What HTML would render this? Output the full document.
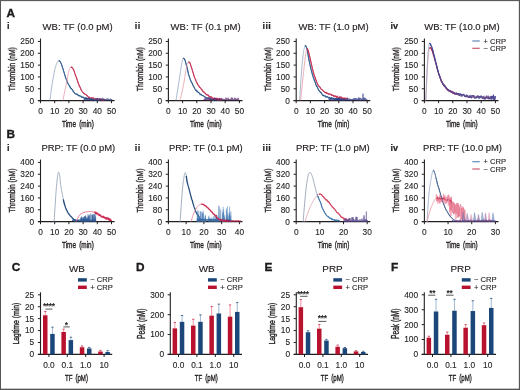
<!DOCTYPE html>
<html><head><meta charset="utf-8"><style>
html,body{margin:0;padding:0;background:#fff;}
svg{display:block;filter:blur(0.4px);}
svg text{font-family:"Liberation Sans", sans-serif;}
</style></head><body>
<svg width="520" height="390" viewBox="0 0 520 390">
<rect x="0" y="0" width="520" height="390" fill="#fff"/>
<rect x="0" y="0" width="1" height="390" fill="#555"/>
<rect x="0" y="0" width="520" height="1" fill="#5a5a5a"/>
<rect x="0" y="1" width="520" height="1" fill="#5a5a5a" fill-opacity="0.12"/>
<rect x="519" y="0" width="1" height="390" fill="#555"/>
<rect x="518" y="0" width="1" height="390" fill="#555" fill-opacity="0.15"/>
<rect x="0" y="389" width="520" height="1" fill="#555"/>
<rect x="0" y="388" width="520" height="1" fill="#555" fill-opacity="0.35"/>
<line x1="40.50" y1="100.90" x2="40.50" y2="38.55" stroke="#231f20" stroke-width="1.1" />
<line x1="37.90" y1="100.60" x2="40.50" y2="100.60" stroke="#231f20" stroke-width="1.0" />
<text transform="translate(34.20,103.50) scale(0.99,1)" font-size="8.4" text-anchor="end" font-weight="normal" fill="#231f20" stroke="#231f20" stroke-width="0.12">0</text>
<line x1="37.90" y1="88.77" x2="40.50" y2="88.77" stroke="#231f20" stroke-width="1.0" />
<text transform="translate(34.20,91.67) scale(0.99,1)" font-size="8.4" text-anchor="end" font-weight="normal" fill="#231f20" stroke="#231f20" stroke-width="0.12">50</text>
<line x1="37.90" y1="76.94" x2="40.50" y2="76.94" stroke="#231f20" stroke-width="1.0" />
<text transform="translate(34.20,79.84) scale(0.99,1)" font-size="8.4" text-anchor="end" font-weight="normal" fill="#231f20" stroke="#231f20" stroke-width="0.12">100</text>
<line x1="37.90" y1="65.11" x2="40.50" y2="65.11" stroke="#231f20" stroke-width="1.0" />
<text transform="translate(34.20,68.01) scale(0.99,1)" font-size="8.4" text-anchor="end" font-weight="normal" fill="#231f20" stroke="#231f20" stroke-width="0.12">150</text>
<line x1="37.90" y1="53.28" x2="40.50" y2="53.28" stroke="#231f20" stroke-width="1.0" />
<text transform="translate(34.20,56.18) scale(0.99,1)" font-size="8.4" text-anchor="end" font-weight="normal" fill="#231f20" stroke="#231f20" stroke-width="0.12">200</text>
<line x1="37.90" y1="41.45" x2="40.50" y2="41.45" stroke="#231f20" stroke-width="1.0" />
<text transform="translate(34.20,44.35) scale(0.99,1)" font-size="8.4" text-anchor="end" font-weight="normal" fill="#231f20" stroke="#231f20" stroke-width="0.12">250</text>
<line x1="37.90" y1="100.60" x2="114.60" y2="100.60" stroke="#231f20" stroke-width="1.1" />
<line x1="40.50" y1="100.60" x2="40.50" y2="103.20" stroke="#231f20" stroke-width="1.0" />
<text transform="translate(40.50,113.80) scale(0.99,1)" font-size="8.4" text-anchor="middle" font-weight="normal" fill="#231f20" stroke="#231f20" stroke-width="0.12">0</text>
<line x1="54.70" y1="100.60" x2="54.70" y2="103.20" stroke="#231f20" stroke-width="1.0" />
<text transform="translate(54.70,113.80) scale(0.99,1)" font-size="8.4" text-anchor="middle" font-weight="normal" fill="#231f20" stroke="#231f20" stroke-width="0.12">10</text>
<line x1="68.90" y1="100.60" x2="68.90" y2="103.20" stroke="#231f20" stroke-width="1.0" />
<text transform="translate(68.90,113.80) scale(0.99,1)" font-size="8.4" text-anchor="middle" font-weight="normal" fill="#231f20" stroke="#231f20" stroke-width="0.12">20</text>
<line x1="83.10" y1="100.60" x2="83.10" y2="103.20" stroke="#231f20" stroke-width="1.0" />
<text transform="translate(83.10,113.80) scale(0.99,1)" font-size="8.4" text-anchor="middle" font-weight="normal" fill="#231f20" stroke="#231f20" stroke-width="0.12">30</text>
<line x1="97.30" y1="100.60" x2="97.30" y2="103.20" stroke="#231f20" stroke-width="1.0" />
<text transform="translate(97.30,113.80) scale(0.99,1)" font-size="8.4" text-anchor="middle" font-weight="normal" fill="#231f20" stroke="#231f20" stroke-width="0.12">40</text>
<line x1="111.50" y1="100.60" x2="111.50" y2="103.20" stroke="#231f20" stroke-width="1.0" />
<text transform="translate(111.50,113.80) scale(0.99,1)" font-size="8.4" text-anchor="middle" font-weight="normal" fill="#231f20" stroke="#231f20" stroke-width="0.12">50</text>
<line x1="40.50" y1="221.90" x2="40.50" y2="159.55" stroke="#231f20" stroke-width="1.1" />
<line x1="37.90" y1="221.60" x2="40.50" y2="221.60" stroke="#231f20" stroke-width="1.0" />
<text transform="translate(34.20,224.50) scale(0.99,1)" font-size="8.4" text-anchor="end" font-weight="normal" fill="#231f20" stroke="#231f20" stroke-width="0.12">0</text>
<line x1="37.90" y1="209.77" x2="40.50" y2="209.77" stroke="#231f20" stroke-width="1.0" />
<text transform="translate(34.20,212.67) scale(0.99,1)" font-size="8.4" text-anchor="end" font-weight="normal" fill="#231f20" stroke="#231f20" stroke-width="0.12">80</text>
<line x1="37.90" y1="197.94" x2="40.50" y2="197.94" stroke="#231f20" stroke-width="1.0" />
<text transform="translate(34.20,200.84) scale(0.99,1)" font-size="8.4" text-anchor="end" font-weight="normal" fill="#231f20" stroke="#231f20" stroke-width="0.12">160</text>
<line x1="37.90" y1="186.11" x2="40.50" y2="186.11" stroke="#231f20" stroke-width="1.0" />
<text transform="translate(34.20,189.01) scale(0.99,1)" font-size="8.4" text-anchor="end" font-weight="normal" fill="#231f20" stroke="#231f20" stroke-width="0.12">240</text>
<line x1="37.90" y1="174.28" x2="40.50" y2="174.28" stroke="#231f20" stroke-width="1.0" />
<text transform="translate(34.20,177.18) scale(0.99,1)" font-size="8.4" text-anchor="end" font-weight="normal" fill="#231f20" stroke="#231f20" stroke-width="0.12">320</text>
<line x1="37.90" y1="162.45" x2="40.50" y2="162.45" stroke="#231f20" stroke-width="1.0" />
<text transform="translate(34.20,165.35) scale(0.99,1)" font-size="8.4" text-anchor="end" font-weight="normal" fill="#231f20" stroke="#231f20" stroke-width="0.12">400</text>
<line x1="37.90" y1="221.60" x2="114.60" y2="221.60" stroke="#231f20" stroke-width="1.1" />
<line x1="40.50" y1="221.60" x2="40.50" y2="224.20" stroke="#231f20" stroke-width="1.0" />
<text transform="translate(40.50,234.80) scale(0.99,1)" font-size="8.4" text-anchor="middle" font-weight="normal" fill="#231f20" stroke="#231f20" stroke-width="0.12">0</text>
<line x1="54.70" y1="221.60" x2="54.70" y2="224.20" stroke="#231f20" stroke-width="1.0" />
<text transform="translate(54.70,234.80) scale(0.99,1)" font-size="8.4" text-anchor="middle" font-weight="normal" fill="#231f20" stroke="#231f20" stroke-width="0.12">10</text>
<line x1="68.90" y1="221.60" x2="68.90" y2="224.20" stroke="#231f20" stroke-width="1.0" />
<text transform="translate(68.90,234.80) scale(0.99,1)" font-size="8.4" text-anchor="middle" font-weight="normal" fill="#231f20" stroke="#231f20" stroke-width="0.12">20</text>
<line x1="83.10" y1="221.60" x2="83.10" y2="224.20" stroke="#231f20" stroke-width="1.0" />
<text transform="translate(83.10,234.80) scale(0.99,1)" font-size="8.4" text-anchor="middle" font-weight="normal" fill="#231f20" stroke="#231f20" stroke-width="0.12">30</text>
<line x1="97.30" y1="221.60" x2="97.30" y2="224.20" stroke="#231f20" stroke-width="1.0" />
<text transform="translate(97.30,234.80) scale(0.99,1)" font-size="8.4" text-anchor="middle" font-weight="normal" fill="#231f20" stroke="#231f20" stroke-width="0.12">40</text>
<line x1="111.50" y1="221.60" x2="111.50" y2="224.20" stroke="#231f20" stroke-width="1.0" />
<text transform="translate(111.50,234.80) scale(0.99,1)" font-size="8.4" text-anchor="middle" font-weight="normal" fill="#231f20" stroke="#231f20" stroke-width="0.12">50</text>
<line x1="168.40" y1="100.90" x2="168.40" y2="38.55" stroke="#231f20" stroke-width="1.1" />
<line x1="165.80" y1="100.60" x2="168.40" y2="100.60" stroke="#231f20" stroke-width="1.0" />
<text transform="translate(162.10,103.50) scale(0.99,1)" font-size="8.4" text-anchor="end" font-weight="normal" fill="#231f20" stroke="#231f20" stroke-width="0.12">0</text>
<line x1="165.80" y1="88.77" x2="168.40" y2="88.77" stroke="#231f20" stroke-width="1.0" />
<text transform="translate(162.10,91.67) scale(0.99,1)" font-size="8.4" text-anchor="end" font-weight="normal" fill="#231f20" stroke="#231f20" stroke-width="0.12">50</text>
<line x1="165.80" y1="76.94" x2="168.40" y2="76.94" stroke="#231f20" stroke-width="1.0" />
<text transform="translate(162.10,79.84) scale(0.99,1)" font-size="8.4" text-anchor="end" font-weight="normal" fill="#231f20" stroke="#231f20" stroke-width="0.12">100</text>
<line x1="165.80" y1="65.11" x2="168.40" y2="65.11" stroke="#231f20" stroke-width="1.0" />
<text transform="translate(162.10,68.01) scale(0.99,1)" font-size="8.4" text-anchor="end" font-weight="normal" fill="#231f20" stroke="#231f20" stroke-width="0.12">150</text>
<line x1="165.80" y1="53.28" x2="168.40" y2="53.28" stroke="#231f20" stroke-width="1.0" />
<text transform="translate(162.10,56.18) scale(0.99,1)" font-size="8.4" text-anchor="end" font-weight="normal" fill="#231f20" stroke="#231f20" stroke-width="0.12">200</text>
<line x1="165.80" y1="41.45" x2="168.40" y2="41.45" stroke="#231f20" stroke-width="1.0" />
<text transform="translate(162.10,44.35) scale(0.99,1)" font-size="8.4" text-anchor="end" font-weight="normal" fill="#231f20" stroke="#231f20" stroke-width="0.12">250</text>
<line x1="165.80" y1="100.60" x2="242.50" y2="100.60" stroke="#231f20" stroke-width="1.1" />
<line x1="168.40" y1="100.60" x2="168.40" y2="103.20" stroke="#231f20" stroke-width="1.0" />
<text transform="translate(168.40,113.80) scale(0.99,1)" font-size="8.4" text-anchor="middle" font-weight="normal" fill="#231f20" stroke="#231f20" stroke-width="0.12">0</text>
<line x1="182.60" y1="100.60" x2="182.60" y2="103.20" stroke="#231f20" stroke-width="1.0" />
<text transform="translate(182.60,113.80) scale(0.99,1)" font-size="8.4" text-anchor="middle" font-weight="normal" fill="#231f20" stroke="#231f20" stroke-width="0.12">10</text>
<line x1="196.80" y1="100.60" x2="196.80" y2="103.20" stroke="#231f20" stroke-width="1.0" />
<text transform="translate(196.80,113.80) scale(0.99,1)" font-size="8.4" text-anchor="middle" font-weight="normal" fill="#231f20" stroke="#231f20" stroke-width="0.12">20</text>
<line x1="211.00" y1="100.60" x2="211.00" y2="103.20" stroke="#231f20" stroke-width="1.0" />
<text transform="translate(211.00,113.80) scale(0.99,1)" font-size="8.4" text-anchor="middle" font-weight="normal" fill="#231f20" stroke="#231f20" stroke-width="0.12">30</text>
<line x1="225.20" y1="100.60" x2="225.20" y2="103.20" stroke="#231f20" stroke-width="1.0" />
<text transform="translate(225.20,113.80) scale(0.99,1)" font-size="8.4" text-anchor="middle" font-weight="normal" fill="#231f20" stroke="#231f20" stroke-width="0.12">40</text>
<line x1="239.40" y1="100.60" x2="239.40" y2="103.20" stroke="#231f20" stroke-width="1.0" />
<text transform="translate(239.40,113.80) scale(0.99,1)" font-size="8.4" text-anchor="middle" font-weight="normal" fill="#231f20" stroke="#231f20" stroke-width="0.12">50</text>
<line x1="168.40" y1="221.90" x2="168.40" y2="159.55" stroke="#231f20" stroke-width="1.1" />
<line x1="165.80" y1="221.60" x2="168.40" y2="221.60" stroke="#231f20" stroke-width="1.0" />
<text transform="translate(162.10,224.50) scale(0.99,1)" font-size="8.4" text-anchor="end" font-weight="normal" fill="#231f20" stroke="#231f20" stroke-width="0.12">0</text>
<line x1="165.80" y1="209.77" x2="168.40" y2="209.77" stroke="#231f20" stroke-width="1.0" />
<text transform="translate(162.10,212.67) scale(0.99,1)" font-size="8.4" text-anchor="end" font-weight="normal" fill="#231f20" stroke="#231f20" stroke-width="0.12">80</text>
<line x1="165.80" y1="197.94" x2="168.40" y2="197.94" stroke="#231f20" stroke-width="1.0" />
<text transform="translate(162.10,200.84) scale(0.99,1)" font-size="8.4" text-anchor="end" font-weight="normal" fill="#231f20" stroke="#231f20" stroke-width="0.12">160</text>
<line x1="165.80" y1="186.11" x2="168.40" y2="186.11" stroke="#231f20" stroke-width="1.0" />
<text transform="translate(162.10,189.01) scale(0.99,1)" font-size="8.4" text-anchor="end" font-weight="normal" fill="#231f20" stroke="#231f20" stroke-width="0.12">240</text>
<line x1="165.80" y1="174.28" x2="168.40" y2="174.28" stroke="#231f20" stroke-width="1.0" />
<text transform="translate(162.10,177.18) scale(0.99,1)" font-size="8.4" text-anchor="end" font-weight="normal" fill="#231f20" stroke="#231f20" stroke-width="0.12">320</text>
<line x1="165.80" y1="162.45" x2="168.40" y2="162.45" stroke="#231f20" stroke-width="1.0" />
<text transform="translate(162.10,165.35) scale(0.99,1)" font-size="8.4" text-anchor="end" font-weight="normal" fill="#231f20" stroke="#231f20" stroke-width="0.12">400</text>
<line x1="165.80" y1="221.60" x2="242.50" y2="221.60" stroke="#231f20" stroke-width="1.1" />
<line x1="168.40" y1="221.60" x2="168.40" y2="224.20" stroke="#231f20" stroke-width="1.0" />
<text transform="translate(168.40,234.80) scale(0.99,1)" font-size="8.4" text-anchor="middle" font-weight="normal" fill="#231f20" stroke="#231f20" stroke-width="0.12">0</text>
<line x1="186.15" y1="221.60" x2="186.15" y2="224.20" stroke="#231f20" stroke-width="1.0" />
<text transform="translate(186.15,234.80) scale(0.99,1)" font-size="8.4" text-anchor="middle" font-weight="normal" fill="#231f20" stroke="#231f20" stroke-width="0.12">10</text>
<line x1="203.90" y1="221.60" x2="203.90" y2="224.20" stroke="#231f20" stroke-width="1.0" />
<text transform="translate(203.90,234.80) scale(0.99,1)" font-size="8.4" text-anchor="middle" font-weight="normal" fill="#231f20" stroke="#231f20" stroke-width="0.12">20</text>
<line x1="221.65" y1="221.60" x2="221.65" y2="224.20" stroke="#231f20" stroke-width="1.0" />
<text transform="translate(221.65,234.80) scale(0.99,1)" font-size="8.4" text-anchor="middle" font-weight="normal" fill="#231f20" stroke="#231f20" stroke-width="0.12">30</text>
<line x1="239.40" y1="221.60" x2="239.40" y2="224.20" stroke="#231f20" stroke-width="1.0" />
<text transform="translate(239.40,234.80) scale(0.99,1)" font-size="8.4" text-anchor="middle" font-weight="normal" fill="#231f20" stroke="#231f20" stroke-width="0.12">40</text>
<line x1="296.20" y1="100.90" x2="296.20" y2="38.55" stroke="#231f20" stroke-width="1.1" />
<line x1="293.60" y1="100.60" x2="296.20" y2="100.60" stroke="#231f20" stroke-width="1.0" />
<text transform="translate(289.90,103.50) scale(0.99,1)" font-size="8.4" text-anchor="end" font-weight="normal" fill="#231f20" stroke="#231f20" stroke-width="0.12">0</text>
<line x1="293.60" y1="88.77" x2="296.20" y2="88.77" stroke="#231f20" stroke-width="1.0" />
<text transform="translate(289.90,91.67) scale(0.99,1)" font-size="8.4" text-anchor="end" font-weight="normal" fill="#231f20" stroke="#231f20" stroke-width="0.12">50</text>
<line x1="293.60" y1="76.94" x2="296.20" y2="76.94" stroke="#231f20" stroke-width="1.0" />
<text transform="translate(289.90,79.84) scale(0.99,1)" font-size="8.4" text-anchor="end" font-weight="normal" fill="#231f20" stroke="#231f20" stroke-width="0.12">100</text>
<line x1="293.60" y1="65.11" x2="296.20" y2="65.11" stroke="#231f20" stroke-width="1.0" />
<text transform="translate(289.90,68.01) scale(0.99,1)" font-size="8.4" text-anchor="end" font-weight="normal" fill="#231f20" stroke="#231f20" stroke-width="0.12">150</text>
<line x1="293.60" y1="53.28" x2="296.20" y2="53.28" stroke="#231f20" stroke-width="1.0" />
<text transform="translate(289.90,56.18) scale(0.99,1)" font-size="8.4" text-anchor="end" font-weight="normal" fill="#231f20" stroke="#231f20" stroke-width="0.12">200</text>
<line x1="293.60" y1="41.45" x2="296.20" y2="41.45" stroke="#231f20" stroke-width="1.0" />
<text transform="translate(289.90,44.35) scale(0.99,1)" font-size="8.4" text-anchor="end" font-weight="normal" fill="#231f20" stroke="#231f20" stroke-width="0.12">250</text>
<line x1="293.60" y1="100.60" x2="370.30" y2="100.60" stroke="#231f20" stroke-width="1.1" />
<line x1="296.20" y1="100.60" x2="296.20" y2="103.20" stroke="#231f20" stroke-width="1.0" />
<text transform="translate(296.20,113.80) scale(0.99,1)" font-size="8.4" text-anchor="middle" font-weight="normal" fill="#231f20" stroke="#231f20" stroke-width="0.12">0</text>
<line x1="310.40" y1="100.60" x2="310.40" y2="103.20" stroke="#231f20" stroke-width="1.0" />
<text transform="translate(310.40,113.80) scale(0.99,1)" font-size="8.4" text-anchor="middle" font-weight="normal" fill="#231f20" stroke="#231f20" stroke-width="0.12">10</text>
<line x1="324.60" y1="100.60" x2="324.60" y2="103.20" stroke="#231f20" stroke-width="1.0" />
<text transform="translate(324.60,113.80) scale(0.99,1)" font-size="8.4" text-anchor="middle" font-weight="normal" fill="#231f20" stroke="#231f20" stroke-width="0.12">20</text>
<line x1="338.80" y1="100.60" x2="338.80" y2="103.20" stroke="#231f20" stroke-width="1.0" />
<text transform="translate(338.80,113.80) scale(0.99,1)" font-size="8.4" text-anchor="middle" font-weight="normal" fill="#231f20" stroke="#231f20" stroke-width="0.12">30</text>
<line x1="353.00" y1="100.60" x2="353.00" y2="103.20" stroke="#231f20" stroke-width="1.0" />
<text transform="translate(353.00,113.80) scale(0.99,1)" font-size="8.4" text-anchor="middle" font-weight="normal" fill="#231f20" stroke="#231f20" stroke-width="0.12">40</text>
<line x1="367.20" y1="100.60" x2="367.20" y2="103.20" stroke="#231f20" stroke-width="1.0" />
<text transform="translate(367.20,113.80) scale(0.99,1)" font-size="8.4" text-anchor="middle" font-weight="normal" fill="#231f20" stroke="#231f20" stroke-width="0.12">50</text>
<line x1="296.20" y1="221.90" x2="296.20" y2="159.55" stroke="#231f20" stroke-width="1.1" />
<line x1="293.60" y1="221.60" x2="296.20" y2="221.60" stroke="#231f20" stroke-width="1.0" />
<text transform="translate(289.90,224.50) scale(0.99,1)" font-size="8.4" text-anchor="end" font-weight="normal" fill="#231f20" stroke="#231f20" stroke-width="0.12">0</text>
<line x1="293.60" y1="209.77" x2="296.20" y2="209.77" stroke="#231f20" stroke-width="1.0" />
<text transform="translate(289.90,212.67) scale(0.99,1)" font-size="8.4" text-anchor="end" font-weight="normal" fill="#231f20" stroke="#231f20" stroke-width="0.12">80</text>
<line x1="293.60" y1="197.94" x2="296.20" y2="197.94" stroke="#231f20" stroke-width="1.0" />
<text transform="translate(289.90,200.84) scale(0.99,1)" font-size="8.4" text-anchor="end" font-weight="normal" fill="#231f20" stroke="#231f20" stroke-width="0.12">160</text>
<line x1="293.60" y1="186.11" x2="296.20" y2="186.11" stroke="#231f20" stroke-width="1.0" />
<text transform="translate(289.90,189.01) scale(0.99,1)" font-size="8.4" text-anchor="end" font-weight="normal" fill="#231f20" stroke="#231f20" stroke-width="0.12">240</text>
<line x1="293.60" y1="174.28" x2="296.20" y2="174.28" stroke="#231f20" stroke-width="1.0" />
<text transform="translate(289.90,177.18) scale(0.99,1)" font-size="8.4" text-anchor="end" font-weight="normal" fill="#231f20" stroke="#231f20" stroke-width="0.12">320</text>
<line x1="293.60" y1="162.45" x2="296.20" y2="162.45" stroke="#231f20" stroke-width="1.0" />
<text transform="translate(289.90,165.35) scale(0.99,1)" font-size="8.4" text-anchor="end" font-weight="normal" fill="#231f20" stroke="#231f20" stroke-width="0.12">400</text>
<line x1="293.60" y1="221.60" x2="370.30" y2="221.60" stroke="#231f20" stroke-width="1.1" />
<line x1="296.20" y1="221.60" x2="296.20" y2="224.20" stroke="#231f20" stroke-width="1.0" />
<text transform="translate(296.20,234.80) scale(0.99,1)" font-size="8.4" text-anchor="middle" font-weight="normal" fill="#231f20" stroke="#231f20" stroke-width="0.12">0</text>
<line x1="319.87" y1="221.60" x2="319.87" y2="224.20" stroke="#231f20" stroke-width="1.0" />
<text transform="translate(319.87,234.80) scale(0.99,1)" font-size="8.4" text-anchor="middle" font-weight="normal" fill="#231f20" stroke="#231f20" stroke-width="0.12">10</text>
<line x1="343.53" y1="221.60" x2="343.53" y2="224.20" stroke="#231f20" stroke-width="1.0" />
<text transform="translate(343.53,234.80) scale(0.99,1)" font-size="8.4" text-anchor="middle" font-weight="normal" fill="#231f20" stroke="#231f20" stroke-width="0.12">20</text>
<line x1="367.20" y1="221.60" x2="367.20" y2="224.20" stroke="#231f20" stroke-width="1.0" />
<text transform="translate(367.20,234.80) scale(0.99,1)" font-size="8.4" text-anchor="middle" font-weight="normal" fill="#231f20" stroke="#231f20" stroke-width="0.12">30</text>
<line x1="424.40" y1="100.90" x2="424.40" y2="38.55" stroke="#231f20" stroke-width="1.1" />
<line x1="421.80" y1="100.60" x2="424.40" y2="100.60" stroke="#231f20" stroke-width="1.0" />
<text transform="translate(418.10,103.50) scale(0.99,1)" font-size="8.4" text-anchor="end" font-weight="normal" fill="#231f20" stroke="#231f20" stroke-width="0.12">0</text>
<line x1="421.80" y1="88.77" x2="424.40" y2="88.77" stroke="#231f20" stroke-width="1.0" />
<text transform="translate(418.10,91.67) scale(0.99,1)" font-size="8.4" text-anchor="end" font-weight="normal" fill="#231f20" stroke="#231f20" stroke-width="0.12">50</text>
<line x1="421.80" y1="76.94" x2="424.40" y2="76.94" stroke="#231f20" stroke-width="1.0" />
<text transform="translate(418.10,79.84) scale(0.99,1)" font-size="8.4" text-anchor="end" font-weight="normal" fill="#231f20" stroke="#231f20" stroke-width="0.12">100</text>
<line x1="421.80" y1="65.11" x2="424.40" y2="65.11" stroke="#231f20" stroke-width="1.0" />
<text transform="translate(418.10,68.01) scale(0.99,1)" font-size="8.4" text-anchor="end" font-weight="normal" fill="#231f20" stroke="#231f20" stroke-width="0.12">150</text>
<line x1="421.80" y1="53.28" x2="424.40" y2="53.28" stroke="#231f20" stroke-width="1.0" />
<text transform="translate(418.10,56.18) scale(0.99,1)" font-size="8.4" text-anchor="end" font-weight="normal" fill="#231f20" stroke="#231f20" stroke-width="0.12">200</text>
<line x1="421.80" y1="41.45" x2="424.40" y2="41.45" stroke="#231f20" stroke-width="1.0" />
<text transform="translate(418.10,44.35) scale(0.99,1)" font-size="8.4" text-anchor="end" font-weight="normal" fill="#231f20" stroke="#231f20" stroke-width="0.12">250</text>
<line x1="421.80" y1="100.60" x2="498.50" y2="100.60" stroke="#231f20" stroke-width="1.1" />
<line x1="424.40" y1="100.60" x2="424.40" y2="103.20" stroke="#231f20" stroke-width="1.0" />
<text transform="translate(424.40,113.80) scale(0.99,1)" font-size="8.4" text-anchor="middle" font-weight="normal" fill="#231f20" stroke="#231f20" stroke-width="0.12">0</text>
<line x1="438.60" y1="100.60" x2="438.60" y2="103.20" stroke="#231f20" stroke-width="1.0" />
<text transform="translate(438.60,113.80) scale(0.99,1)" font-size="8.4" text-anchor="middle" font-weight="normal" fill="#231f20" stroke="#231f20" stroke-width="0.12">10</text>
<line x1="452.80" y1="100.60" x2="452.80" y2="103.20" stroke="#231f20" stroke-width="1.0" />
<text transform="translate(452.80,113.80) scale(0.99,1)" font-size="8.4" text-anchor="middle" font-weight="normal" fill="#231f20" stroke="#231f20" stroke-width="0.12">20</text>
<line x1="467.00" y1="100.60" x2="467.00" y2="103.20" stroke="#231f20" stroke-width="1.0" />
<text transform="translate(467.00,113.80) scale(0.99,1)" font-size="8.4" text-anchor="middle" font-weight="normal" fill="#231f20" stroke="#231f20" stroke-width="0.12">30</text>
<line x1="481.20" y1="100.60" x2="481.20" y2="103.20" stroke="#231f20" stroke-width="1.0" />
<text transform="translate(481.20,113.80) scale(0.99,1)" font-size="8.4" text-anchor="middle" font-weight="normal" fill="#231f20" stroke="#231f20" stroke-width="0.12">40</text>
<line x1="495.40" y1="100.60" x2="495.40" y2="103.20" stroke="#231f20" stroke-width="1.0" />
<text transform="translate(495.40,113.80) scale(0.99,1)" font-size="8.4" text-anchor="middle" font-weight="normal" fill="#231f20" stroke="#231f20" stroke-width="0.12">50</text>
<line x1="424.40" y1="221.90" x2="424.40" y2="159.55" stroke="#231f20" stroke-width="1.1" />
<line x1="421.80" y1="221.60" x2="424.40" y2="221.60" stroke="#231f20" stroke-width="1.0" />
<text transform="translate(418.10,224.50) scale(0.99,1)" font-size="8.4" text-anchor="end" font-weight="normal" fill="#231f20" stroke="#231f20" stroke-width="0.12">0</text>
<line x1="421.80" y1="209.77" x2="424.40" y2="209.77" stroke="#231f20" stroke-width="1.0" />
<text transform="translate(418.10,212.67) scale(0.99,1)" font-size="8.4" text-anchor="end" font-weight="normal" fill="#231f20" stroke="#231f20" stroke-width="0.12">80</text>
<line x1="421.80" y1="197.94" x2="424.40" y2="197.94" stroke="#231f20" stroke-width="1.0" />
<text transform="translate(418.10,200.84) scale(0.99,1)" font-size="8.4" text-anchor="end" font-weight="normal" fill="#231f20" stroke="#231f20" stroke-width="0.12">160</text>
<line x1="421.80" y1="186.11" x2="424.40" y2="186.11" stroke="#231f20" stroke-width="1.0" />
<text transform="translate(418.10,189.01) scale(0.99,1)" font-size="8.4" text-anchor="end" font-weight="normal" fill="#231f20" stroke="#231f20" stroke-width="0.12">240</text>
<line x1="421.80" y1="174.28" x2="424.40" y2="174.28" stroke="#231f20" stroke-width="1.0" />
<text transform="translate(418.10,177.18) scale(0.99,1)" font-size="8.4" text-anchor="end" font-weight="normal" fill="#231f20" stroke="#231f20" stroke-width="0.12">320</text>
<line x1="421.80" y1="162.45" x2="424.40" y2="162.45" stroke="#231f20" stroke-width="1.0" />
<text transform="translate(418.10,165.35) scale(0.99,1)" font-size="8.4" text-anchor="end" font-weight="normal" fill="#231f20" stroke="#231f20" stroke-width="0.12">400</text>
<line x1="421.80" y1="221.60" x2="498.50" y2="221.60" stroke="#231f20" stroke-width="1.1" />
<line x1="424.40" y1="221.60" x2="424.40" y2="224.20" stroke="#231f20" stroke-width="1.0" />
<text transform="translate(424.40,234.80) scale(0.99,1)" font-size="8.4" text-anchor="middle" font-weight="normal" fill="#231f20" stroke="#231f20" stroke-width="0.12">0</text>
<line x1="448.07" y1="221.60" x2="448.07" y2="224.20" stroke="#231f20" stroke-width="1.0" />
<text transform="translate(448.07,234.80) scale(0.99,1)" font-size="8.4" text-anchor="middle" font-weight="normal" fill="#231f20" stroke="#231f20" stroke-width="0.12">10</text>
<line x1="471.73" y1="221.60" x2="471.73" y2="224.20" stroke="#231f20" stroke-width="1.0" />
<text transform="translate(471.73,234.80) scale(0.99,1)" font-size="8.4" text-anchor="middle" font-weight="normal" fill="#231f20" stroke="#231f20" stroke-width="0.12">20</text>
<line x1="495.40" y1="221.60" x2="495.40" y2="224.20" stroke="#231f20" stroke-width="1.0" />
<text transform="translate(495.40,234.80) scale(0.99,1)" font-size="8.4" text-anchor="middle" font-weight="normal" fill="#231f20" stroke="#231f20" stroke-width="0.12">30</text>
<text x="6.60" y="16.70" font-size="11.8" text-anchor="start"  fill="#231f20" stroke="#000" stroke-width="0.3" font-weight="bold">A</text>
<text x="6.60" y="138.00" font-size="11.8" text-anchor="start"  fill="#231f20" stroke="#000" stroke-width="0.3" font-weight="bold">B</text>
<text x="7.00" y="29.30" font-size="9.1" text-anchor="start"  fill="#231f20" font-weight="bold" letter-spacing="0.35" stroke="#000" stroke-width="0.15">i</text>
<text x="7.00" y="150.70" font-size="9.1" text-anchor="start"  fill="#231f20" font-weight="bold" letter-spacing="0.35" stroke="#000" stroke-width="0.15">i</text>
<text x="134.80" y="29.30" font-size="9.1" text-anchor="start"  fill="#231f20" font-weight="bold" letter-spacing="0.35" stroke="#000" stroke-width="0.15">ii</text>
<text x="134.80" y="150.70" font-size="9.1" text-anchor="start"  fill="#231f20" font-weight="bold" letter-spacing="0.35" stroke="#000" stroke-width="0.15">ii</text>
<text x="262.60" y="29.30" font-size="9.1" text-anchor="start"  fill="#231f20" font-weight="bold" letter-spacing="0.35" stroke="#000" stroke-width="0.15">iii</text>
<text x="262.60" y="150.70" font-size="9.1" text-anchor="start"  fill="#231f20" font-weight="bold" letter-spacing="0.35" stroke="#000" stroke-width="0.15">iii</text>
<text x="390.60" y="29.30" font-size="9.1" text-anchor="start"  fill="#231f20" font-weight="bold" letter-spacing="-0.2" stroke="#000" stroke-width="0.15">iv</text>
<text x="390.60" y="150.70" font-size="9.1" text-anchor="start"  fill="#231f20" font-weight="bold" letter-spacing="-0.2" stroke="#000" stroke-width="0.15">iv</text>
<text x="77.60" y="29.60" font-size="9.5" text-anchor="middle" font-weight="normal" fill="#231f20" stroke="#231f20" stroke-width="0.15">WB: TF (0.0 pM)</text>
<text x="78.30" y="150.90" font-size="9.45" text-anchor="middle" font-weight="normal" fill="#231f20" stroke="#231f20" stroke-width="0.15">PRP: TF (0.0 pM)</text>
<text transform="translate(14.80,69.20) rotate(-90) scale(0.7,1)" font-size="9.6" text-anchor="middle" font-weight="normal" fill="#231f20" stroke="#231f20" stroke-width="0.38">Thrombin (nM)</text>
<text transform="translate(14.80,190.60) rotate(-90) scale(0.7,1)" font-size="9.6" text-anchor="middle" font-weight="normal" fill="#231f20" stroke="#231f20" stroke-width="0.38">Thrombin (nM)</text>
<text transform="translate(77.90,127.00) scale(0.67,1)" font-size="9.6" text-anchor="middle" font-weight="normal" fill="#231f20" stroke="#231f20" stroke-width="0.38" word-spacing="2">Time (min)</text>
<text transform="translate(77.90,248.20) scale(0.67,1)" font-size="9.6" text-anchor="middle" font-weight="normal" fill="#231f20" stroke="#231f20" stroke-width="0.38" word-spacing="2">Time (min)</text>
<text x="205.60" y="29.60" font-size="9.5" text-anchor="middle" font-weight="normal" fill="#231f20" stroke="#231f20" stroke-width="0.15">WB: TF (0.1 pM)</text>
<text x="205.80" y="150.90" font-size="9.45" text-anchor="middle" font-weight="normal" fill="#231f20" stroke="#231f20" stroke-width="0.15">PRP: TF (0.1 pM)</text>
<text transform="translate(142.70,69.20) rotate(-90) scale(0.7,1)" font-size="9.6" text-anchor="middle" font-weight="normal" fill="#231f20" stroke="#231f20" stroke-width="0.38">Thrombin (nM)</text>
<text transform="translate(142.70,190.60) rotate(-90) scale(0.7,1)" font-size="9.6" text-anchor="middle" font-weight="normal" fill="#231f20" stroke="#231f20" stroke-width="0.38">Thrombin (nM)</text>
<text transform="translate(205.80,127.00) scale(0.67,1)" font-size="9.6" text-anchor="middle" font-weight="normal" fill="#231f20" stroke="#231f20" stroke-width="0.38" word-spacing="2">Time (min)</text>
<text transform="translate(205.80,248.20) scale(0.67,1)" font-size="9.6" text-anchor="middle" font-weight="normal" fill="#231f20" stroke="#231f20" stroke-width="0.38" word-spacing="2">Time (min)</text>
<text x="333.60" y="29.60" font-size="9.5" text-anchor="middle" font-weight="normal" fill="#231f20" stroke="#231f20" stroke-width="0.15">WB: TF (1.0 pM)</text>
<text x="332.80" y="150.90" font-size="9.45" text-anchor="middle" font-weight="normal" fill="#231f20" stroke="#231f20" stroke-width="0.15">PRP: TF (1.0 pM)</text>
<text transform="translate(270.50,69.20) rotate(-90) scale(0.7,1)" font-size="9.6" text-anchor="middle" font-weight="normal" fill="#231f20" stroke="#231f20" stroke-width="0.38">Thrombin (nM)</text>
<text transform="translate(270.50,190.60) rotate(-90) scale(0.7,1)" font-size="9.6" text-anchor="middle" font-weight="normal" fill="#231f20" stroke="#231f20" stroke-width="0.38">Thrombin (nM)</text>
<text transform="translate(333.60,127.00) scale(0.67,1)" font-size="9.6" text-anchor="middle" font-weight="normal" fill="#231f20" stroke="#231f20" stroke-width="0.38" word-spacing="2">Time (min)</text>
<text transform="translate(333.60,248.20) scale(0.67,1)" font-size="9.6" text-anchor="middle" font-weight="normal" fill="#231f20" stroke="#231f20" stroke-width="0.38" word-spacing="2">Time (min)</text>
<text x="462.00" y="29.60" font-size="9.5" text-anchor="middle" font-weight="normal" fill="#231f20" stroke="#231f20" stroke-width="0.15">WB: TF (10.0 pM)</text>
<text x="462.50" y="150.90" font-size="9.45" text-anchor="middle" font-weight="normal" fill="#231f20" stroke="#231f20" stroke-width="0.15">PRP: TF (10.0 pM)</text>
<text transform="translate(398.70,69.20) rotate(-90) scale(0.7,1)" font-size="9.6" text-anchor="middle" font-weight="normal" fill="#231f20" stroke="#231f20" stroke-width="0.38">Thrombin (nM)</text>
<text transform="translate(398.70,190.60) rotate(-90) scale(0.7,1)" font-size="9.6" text-anchor="middle" font-weight="normal" fill="#231f20" stroke="#231f20" stroke-width="0.38">Thrombin (nM)</text>
<text transform="translate(461.80,127.00) scale(0.67,1)" font-size="9.6" text-anchor="middle" font-weight="normal" fill="#231f20" stroke="#231f20" stroke-width="0.38" word-spacing="2">Time (min)</text>
<text transform="translate(461.80,248.20) scale(0.67,1)" font-size="9.6" text-anchor="middle" font-weight="normal" fill="#231f20" stroke="#231f20" stroke-width="0.38" word-spacing="2">Time (min)</text>
<line x1="472.30" y1="41.00" x2="479.80" y2="41.00" stroke="#5f86b0" stroke-width="1.15" />
<text x="483.40" y="43.70" font-size="7.6" text-anchor="start" font-weight="normal" fill="#231f20" stroke="#231f20" stroke-width="0.12">+ CRP</text>
<line x1="472.30" y1="48.30" x2="479.80" y2="48.30" stroke="#c9566f" stroke-width="1.15" />
<text x="483.40" y="51.00" font-size="7.6" text-anchor="start" font-weight="normal" fill="#231f20" stroke="#231f20" stroke-width="0.12">− CRP</text>
<line x1="472.30" y1="161.70" x2="479.80" y2="161.70" stroke="#5f86b0" stroke-width="1.15" />
<text x="483.40" y="164.40" font-size="7.6" text-anchor="start" font-weight="normal" fill="#231f20" stroke="#231f20" stroke-width="0.12">+ CRP</text>
<line x1="472.30" y1="169.00" x2="479.80" y2="169.00" stroke="#c9566f" stroke-width="1.15" />
<text x="483.40" y="171.70" font-size="7.6" text-anchor="start" font-weight="normal" fill="#231f20" stroke="#231f20" stroke-width="0.12">− CRP</text>
<polyline points="49.90,100.30 50.07,99.10 50.28,97.51 50.54,95.62 50.83,93.51 51.14,91.25 51.46,88.93 51.79,86.62 52.11,84.41 52.42,82.38 52.70,80.60 52.97,79.01 53.24,77.49 53.51,76.04 53.77,74.66 54.04,73.34 54.30,72.10 54.56,70.92 54.81,69.81 55.06,68.77 55.30,67.80 55.54,66.90 55.78,66.08 56.02,65.34 56.25,64.67 56.48,64.06 56.70,63.51 56.92,63.02 57.12,62.57 57.32,62.17 57.50,61.80 57.67,61.49 57.82,61.25 57.96,61.08 58.09,60.95 58.21,60.87 58.33,60.83 58.45,60.81 58.56,60.80 58.68,60.80 58.80,60.80 58.92,60.80 59.05,60.83 59.17,60.88 59.30,60.95 59.42,61.03 59.54,61.13 59.66,61.24 59.77,61.35 59.89,61.48 60.00,61.60" fill="none" stroke="#93a5c2" stroke-width="0.8" stroke-opacity="1.0" stroke-linejoin="round" />
<polyline points="58.60,60.72 59.15,60.69 59.70,61.36 60.25,61.63 60.80,62.84 61.35,64.14 61.90,65.50 62.45,67.42 63.00,68.79 63.55,70.88 64.10,72.54 64.65,74.41 65.20,76.34 65.75,78.23 66.30,79.10 66.85,80.48 67.40,82.03 67.95,83.45 68.50,84.21 69.05,85.07 69.60,86.60 70.15,86.62 70.70,88.27 71.25,88.49 71.80,89.09 72.35,89.80 72.90,90.74 73.45,92.01 74.00,91.97 74.55,93.05 75.10,93.66 75.65,93.79 76.20,94.35 76.75,94.03 77.30,94.27 77.85,94.70 78.40,95.59 78.95,95.52 79.50,95.61 80.05,96.23 80.60,96.28 81.15,96.29 81.70,97.24 82.25,97.35 82.80,96.92 83.35,97.64 83.90,97.78 84.45,98.52 85.00,98.46 85.55,97.91 86.10,99.19 86.65,97.92 87.20,98.55 87.75,99.24 88.30,98.31 88.85,98.98 89.40,98.27 89.95,99.45 90.50,99.69 91.05,99.39 91.60,99.99 92.15,98.98 92.70,99.73 93.25,99.56 93.80,99.56 94.35,99.34 94.90,100.12 95.45,100.20 96.00,99.43 96.55,99.84 97.10,98.60 97.65,99.95 98.20,99.86 98.75,100.20 99.30,100.20 99.85,99.12" fill="none" stroke="#1f4478" stroke-width="1.1" stroke-opacity="0.95" stroke-linejoin="round" />
<polyline points="58.60,60.75 59.15,60.96 59.70,61.02 60.25,61.86 60.80,62.63 61.35,63.99 61.90,65.50 62.45,67.59 63.00,68.85 63.55,70.75 64.10,72.77 64.65,74.99 65.20,76.07 65.75,77.93 66.30,79.45 66.85,81.03 67.40,82.19 67.95,83.38 68.50,83.94 69.05,85.09 69.60,86.01 70.15,87.44 70.70,88.37 71.25,88.35 71.80,89.13 72.35,89.92 72.90,90.65 73.45,91.64 74.00,92.43 74.55,92.68 75.10,92.92 75.65,93.84 76.20,94.13 76.75,94.66 77.30,95.40 77.85,95.32 78.40,95.37 78.95,95.77 79.50,96.11 80.05,95.49 80.60,96.91 81.15,96.98 81.70,97.36 82.25,97.50 82.80,97.14 83.35,97.38 83.90,97.13 84.45,98.14 85.00,97.41 85.55,97.56 86.10,97.93 86.65,98.00 87.20,98.42 87.75,98.05 88.30,98.05 88.85,98.40 89.40,98.38 89.95,98.91 90.50,98.35 91.05,99.94 91.60,99.50 92.15,98.67 92.70,98.88 93.25,99.09 93.80,99.14 94.35,98.69 94.90,100.14 95.45,100.20 96.00,99.41 96.55,99.47 97.10,98.65 97.65,98.69 98.20,99.21 98.75,99.05 99.30,100.20 99.85,98.85" fill="none" stroke="#3a78aa" stroke-width="0.75" stroke-opacity="0.75" stroke-linejoin="round" />
<polyline points="62.90,100.30 63.10,99.35 63.36,98.10 63.67,96.63 64.02,94.97 64.39,93.20 64.78,91.36 65.16,89.52 65.54,87.72 65.89,86.03 66.20,84.50 66.49,83.06 66.77,81.61 67.04,80.16 67.31,78.74 67.56,77.36 67.81,76.04 68.05,74.79 68.28,73.64 68.49,72.61 68.70,71.70 68.89,70.93 69.07,70.30 69.24,69.77 69.39,69.34 69.54,68.99 69.68,68.70 69.81,68.45 69.94,68.23 70.07,68.02 70.20,67.80 70.33,67.60 70.44,67.45 70.56,67.33 70.66,67.26 70.77,67.21 70.87,67.18 70.98,67.17 71.08,67.18 71.19,67.19 71.30,67.20 71.42,67.22 71.53,67.24 71.65,67.29 71.77,67.34 71.89,67.41 72.01,67.50 72.13,67.60 72.25,67.72 72.38,67.85 72.50,68.00" fill="none" stroke="#e698a6" stroke-width="0.8" stroke-opacity="1.0" stroke-linejoin="round" />
<polyline points="71.00,66.94 71.55,67.49 72.10,67.59 72.65,68.00 73.20,69.13 73.75,69.99 74.30,71.67 74.85,73.45 75.40,74.91 75.95,76.38 76.50,77.73 77.05,79.52 77.60,81.02 78.15,83.05 78.70,84.28 79.25,85.83 79.80,86.69 80.35,87.75 80.90,89.36 81.45,90.52 82.00,91.28 82.55,92.01 83.10,92.71 83.65,93.25 84.20,93.27 84.75,94.10 85.30,94.41 85.85,94.50 86.40,94.91 86.95,95.58 87.50,95.89 88.05,96.75 88.60,97.38 89.15,97.00 89.70,97.90 90.25,98.20 90.80,98.37 91.35,97.74 91.90,97.70 92.45,97.87 93.00,97.97 93.55,98.10 94.10,98.84 94.65,99.36 95.20,99.36 95.75,98.87 96.30,99.21 96.85,99.51 97.40,98.39 97.95,99.40 98.50,99.88 99.05,99.71 99.60,99.71 100.15,99.27 100.70,98.77 101.25,99.92 101.80,99.11 102.35,100.02 102.90,100.20 103.45,99.31 104.00,99.35 104.55,100.20" fill="none" stroke="#b8163e" stroke-width="1.1" stroke-opacity="0.95" stroke-linejoin="round" />
<polyline points="71.00,67.29 71.55,67.08 72.10,67.37 72.65,68.00 73.20,69.34 73.75,70.47 74.30,71.42 74.85,73.35 75.40,75.00 75.95,76.35 76.50,77.80 77.05,79.66 77.60,81.00 78.15,82.44 78.70,84.65 79.25,85.72 79.80,86.86 80.35,88.39 80.90,89.01 81.45,90.42 82.00,91.25 82.55,91.41 83.10,92.13 83.65,92.78 84.20,93.28 84.75,94.18 85.30,94.31 85.85,94.95 86.40,95.03 86.95,96.34 87.50,96.01 88.05,96.45 88.60,96.90 89.15,97.60 89.70,97.21 90.25,98.10 90.80,97.74 91.35,97.97 91.90,98.13 92.45,97.57 93.00,98.32 93.55,98.07 94.10,97.90 94.65,99.21 95.20,98.31 95.75,98.86 96.30,99.33 96.85,99.12 97.40,98.79 97.95,99.16 98.50,99.27 99.05,99.72 99.60,98.57 100.15,99.42 100.70,98.90 101.25,98.98 101.80,99.93 102.35,99.47 102.90,99.60 103.45,100.02 104.00,100.20 104.55,99.46" fill="none" stroke="#d24a6c" stroke-width="0.75" stroke-opacity="0.75" stroke-linejoin="round" />
<polygon points="84.00,100.00 84.00,98.54 84.55,99.47 85.10,98.73 85.65,99.33 86.20,98.84 86.75,99.45 87.30,98.79 87.85,99.14 88.40,98.37 88.95,99.19 89.50,97.91 90.05,99.66 90.60,98.64 91.15,99.14 91.70,98.10 92.25,99.75 92.80,99.47 93.35,99.52 93.90,99.56 94.45,99.67 95.00,99.56 95.55,99.35 96.10,98.21 96.65,99.18 97.20,99.41 97.75,99.31 98.30,98.45 98.85,99.74 99.40,98.02 99.95,99.12 100.50,99.28 101.05,99.14 101.60,98.94 102.15,99.48 102.70,97.82 103.25,99.23 103.80,99.39 104.35,99.53 104.90,98.72 105.45,99.60 106.00,99.33 106.55,99.61 107.10,98.33 107.65,99.84 108.20,98.65 108.75,99.52 109.30,99.67 109.85,99.60 110.40,98.51 110.95,99.47 111.50,99.58 112.05,99.11 112.05,100.00" fill="#3a4a8a" fill-opacity="0.45" stroke="#3a4a8a" stroke-width="0.7" stroke-opacity="0.8" stroke-linejoin="round"/>
<polyline points="176.00,100.30 176.20,99.02 176.47,97.32 176.79,95.30 177.14,93.04 177.53,90.63 177.92,88.15 178.30,85.70 178.67,83.34 179.01,81.18 179.30,79.30 179.56,77.63 179.80,76.03 180.02,74.51 180.23,73.08 180.43,71.71 180.62,70.42 180.80,69.21 180.97,68.07 181.14,67.00 181.30,66.00 181.45,65.09 181.60,64.27 181.73,63.54 181.86,62.88 181.98,62.29 182.09,61.76 182.19,61.28 182.30,60.83 182.40,60.41 182.50,60.00 182.60,59.62 182.68,59.30 182.76,59.01 182.84,58.77 182.91,58.56 182.98,58.39 183.06,58.25 183.13,58.14 183.21,58.06 183.30,58.00 183.39,57.97 183.49,57.99 183.59,58.04 183.69,58.12 183.79,58.23 183.89,58.36 183.99,58.51 184.10,58.67 184.20,58.83 184.30,59.00 184.40,59.15 184.48,59.30 184.57,59.43 184.65,59.58" fill="none" stroke="#93a5c2" stroke-width="0.8" stroke-opacity="1.0" stroke-linejoin="round" />
<polyline points="183.20,58.22 183.75,58.44 184.30,58.78 184.85,59.87 185.40,61.36 185.95,63.75 186.50,65.48 187.05,67.49 187.60,69.86 188.15,72.59 188.70,74.82 189.25,76.35 189.80,77.88 190.35,79.94 190.90,80.96 191.45,82.30 192.00,82.93 192.55,84.02 193.10,85.71 193.65,86.51 194.20,87.13 194.75,88.93 195.30,89.44 195.85,90.34 196.40,90.16 196.95,91.57 197.50,91.15 198.05,92.56 198.60,92.56 199.15,92.91 199.70,93.67 200.25,94.63 200.80,94.25 201.35,94.51 201.90,95.47 202.45,95.46 203.00,95.64 203.55,96.05 204.10,96.20 204.65,96.70 205.20,97.12 205.75,97.34 206.30,98.26 206.85,97.72 207.40,98.23 207.95,97.87 208.50,98.30 209.05,97.88 209.60,98.39 210.15,98.08 210.70,99.44 211.25,99.20 211.80,98.61 212.35,99.19 212.90,100.09 213.45,98.57 214.00,99.96 214.55,99.24 215.10,99.38 215.65,100.08 216.20,99.20 216.75,99.45 217.30,99.84 217.85,100.20 218.40,99.13 218.95,100.19 219.50,99.94" fill="none" stroke="#1f4478" stroke-width="1.1" stroke-opacity="0.95" stroke-linejoin="round" />
<polyline points="183.20,58.14 183.75,58.14 184.30,58.92 184.85,59.75 185.40,61.41 185.95,63.31 186.50,65.79 187.05,67.57 187.60,69.68 188.15,71.98 188.70,74.84 189.25,76.83 189.80,78.30 190.35,79.41 190.90,80.68 191.45,81.94 192.00,83.26 192.55,84.12 193.10,85.48 193.65,86.35 194.20,88.03 194.75,88.96 195.30,89.35 195.85,89.73 196.40,91.14 196.95,90.95 197.50,91.49 198.05,91.54 198.60,92.47 199.15,93.08 199.70,93.60 200.25,93.70 200.80,94.56 201.35,94.34 201.90,95.11 202.45,95.26 203.00,96.05 203.55,95.88 204.10,96.16 204.65,96.85 205.20,97.00 205.75,97.78 206.30,97.90 206.85,98.45 207.40,98.49 207.95,98.75 208.50,99.19 209.05,98.51 209.60,98.52 210.15,99.77 210.70,98.40 211.25,99.51 211.80,99.44 212.35,98.39 212.90,99.91 213.45,100.06 214.00,99.59 214.55,99.82 215.10,100.01 215.65,98.69 216.20,99.47 216.75,99.44 217.30,100.14 217.85,100.10 218.40,100.16 218.95,99.66 219.50,100.20" fill="none" stroke="#3a78aa" stroke-width="0.75" stroke-opacity="0.75" stroke-linejoin="round" />
<polyline points="180.00,100.30 180.20,99.46 180.46,98.38 180.77,97.11 181.11,95.69 181.48,94.15 181.86,92.53 182.25,90.87 182.63,89.20 182.98,87.56 183.30,86.00 183.60,84.42 183.90,82.75 184.20,81.01 184.49,79.24 184.78,77.48 185.05,75.76 185.31,74.12 185.56,72.59 185.79,71.20 186.00,70.00 186.19,68.98 186.35,68.10 186.49,67.34 186.62,66.69 186.73,66.12 186.84,65.63 186.95,65.19 187.06,64.78 187.17,64.39 187.30,64.00 187.44,63.63 187.58,63.30 187.73,63.02 187.87,62.78 188.02,62.57 188.16,62.41 188.31,62.27 188.44,62.16 188.58,62.07 188.70,62.00 188.82,61.96 188.93,61.95 189.03,61.98 189.13,62.04 189.22,62.12 189.32,62.22 189.41,62.35 189.51,62.49 189.60,62.64 189.70,62.80 189.80,62.97 189.88,63.14" fill="none" stroke="#e698a6" stroke-width="0.8" stroke-opacity="1.0" stroke-linejoin="round" />
<polyline points="188.40,62.28 188.95,62.06 189.50,62.33 190.05,63.24 190.60,64.80 191.15,66.52 191.70,68.00 192.25,70.16 192.80,71.65 193.35,73.49 193.90,75.31 194.45,77.09 195.00,78.52 195.55,79.49 196.10,81.39 196.65,82.50 197.20,83.37 197.75,84.42 198.30,85.49 198.85,85.81 199.40,87.27 199.95,87.49 200.50,87.94 201.05,88.73 201.60,89.82 202.15,89.84 202.70,91.04 203.25,91.91 203.80,91.92 204.35,92.34 204.90,92.99 205.45,93.75 206.00,94.34 206.55,94.61 207.10,95.10 207.65,94.77 208.20,95.27 208.75,95.80 209.30,96.86 209.85,96.56 210.40,97.25 210.95,96.68 211.50,96.97 212.05,97.49 212.60,98.30 213.15,98.49 213.70,98.61 214.25,98.11 214.80,98.60 215.35,98.62 215.90,98.72 216.45,98.21 217.00,99.65 217.55,98.48 218.10,99.95 218.65,99.94 219.20,98.28 219.75,99.15 220.30,99.88 220.85,100.20 221.40,99.25 221.95,98.93" fill="none" stroke="#b8163e" stroke-width="1.1" stroke-opacity="0.95" stroke-linejoin="round" />
<polyline points="188.40,62.05 188.95,62.19 189.50,62.32 190.05,63.55 190.60,64.80 191.15,66.62 191.70,68.55 192.25,69.68 192.80,71.84 193.35,73.40 193.90,75.50 194.45,77.11 195.00,78.32 195.55,80.22 196.10,81.12 196.65,81.88 197.20,82.92 197.75,84.38 198.30,85.30 198.85,86.04 199.40,86.68 199.95,87.58 200.50,88.19 201.05,89.34 201.60,89.02 202.15,90.44 202.70,91.15 203.25,90.91 203.80,92.43 204.35,92.74 204.90,93.51 205.45,93.26 206.00,93.84 206.55,94.32 207.10,95.57 207.65,95.46 208.20,95.56 208.75,96.05 209.30,96.19 209.85,96.19 210.40,96.56 210.95,97.92 211.50,97.32 212.05,98.53 212.60,97.63 213.15,97.81 213.70,98.34 214.25,97.94 214.80,98.36 215.35,99.45 215.90,99.45 216.45,99.42 217.00,99.19 217.55,99.77 218.10,99.89 218.65,99.23 219.20,99.59 219.75,98.37 220.30,99.72 220.85,99.21 221.40,99.85 221.95,99.68" fill="none" stroke="#d24a6c" stroke-width="0.75" stroke-opacity="0.75" stroke-linejoin="round" />
<polygon points="204.00,100.00 204.00,99.04 204.55,99.81 205.10,97.57 205.65,99.75 206.20,98.61 206.75,99.59 207.30,99.02 207.85,99.30 208.40,97.45 208.95,99.65 209.50,98.19 210.05,99.62 210.60,98.42 211.15,99.55 211.70,99.32 212.25,99.73 212.80,99.22 213.35,99.17 213.90,98.56 214.45,99.68 215.00,97.62 215.55,99.10 216.10,98.67 216.65,99.75 217.20,99.26 217.75,99.78 218.30,98.91 218.85,99.78 219.40,99.15 219.95,99.66 220.50,98.39 221.05,99.18 221.60,97.98 222.15,99.54 222.70,98.75 223.25,99.46 223.80,98.83 224.35,99.60 224.90,99.56 225.45,99.64 226.00,97.47 226.55,99.76 227.10,98.54 227.65,99.38 228.20,97.72 228.75,99.69 229.30,99.08 229.85,99.66 230.40,98.78 230.95,99.52 231.50,97.51 232.05,99.21 232.60,97.69 233.15,99.83 233.70,99.63 234.25,99.32 234.80,97.64 235.35,99.50 235.90,98.35 236.45,99.85 237.00,98.80 237.55,99.15 238.10,97.80 238.65,99.21 238.65,100.00" fill="#5a2e70" fill-opacity="0.5" stroke="#5a2e70" stroke-width="0.7" stroke-opacity="0.75" stroke-linejoin="round"/>
<polyline points="299.60,100.30 299.72,98.49 299.88,96.08 300.07,93.21 300.28,90.00 300.50,86.57 300.73,83.07 300.97,79.62 301.19,76.33 301.41,73.35 301.60,70.80 301.78,68.58 301.95,66.52 302.13,64.60 302.29,62.82 302.46,61.16 302.62,59.61 302.77,58.17 302.92,56.83 303.06,55.58 303.20,54.40 303.33,53.34 303.46,52.42 303.57,51.63 303.69,50.94 303.79,50.34 303.90,49.81 304.00,49.33 304.10,48.88 304.20,48.44 304.30,48.00 304.40,47.57 304.49,47.17 304.58,46.81 304.67,46.48 304.76,46.20 304.84,45.96 304.93,45.75 305.02,45.59 305.11,45.47 305.20,45.40 305.30,45.38 305.39,45.42 305.49,45.52 305.59,45.66 305.69,45.83 305.79,46.04 305.89,46.26 305.99,46.50 306.10,46.75 306.20,47.00 306.30,47.24 306.41,47.46" fill="none" stroke="#93a5c2" stroke-width="0.8" stroke-opacity="1.0" stroke-linejoin="round" />
<polyline points="305.00,45.86 305.55,45.47 306.10,46.55 306.65,47.83 307.20,49.88 307.75,52.82 308.30,56.29 308.85,59.19 309.40,61.87 309.95,64.61 310.50,66.93 311.05,69.41 311.60,71.21 312.15,73.77 312.70,75.13 313.25,77.41 313.80,78.83 314.35,80.18 314.90,81.63 315.45,83.24 316.00,84.96 316.55,86.23 317.10,86.76 317.65,87.75 318.20,89.20 318.75,90.15 319.30,90.76 319.85,91.32 320.40,92.44 320.95,92.39 321.50,93.32 322.05,94.05 322.60,95.15 323.15,95.20 323.70,95.90 324.25,95.71 324.80,95.69 325.35,95.97 325.90,97.20 326.45,97.08 327.00,96.73 327.55,96.50 328.10,97.39 328.65,97.83 329.20,97.62 329.75,97.53 330.30,98.32 330.85,98.87 331.40,97.87 331.95,97.65 332.50,98.23 333.05,98.45 333.60,98.96 334.15,98.18 334.70,99.29 335.25,99.25 335.80,98.88 336.35,98.38 336.90,99.83 337.45,98.64 338.00,99.64 338.55,98.54 339.10,98.55 339.65,99.64 340.20,98.74 340.75,100.10 341.30,99.20 341.85,98.59 342.40,98.69 342.95,99.12 343.50,99.67 344.05,100.20 344.60,98.61" fill="none" stroke="#1f4478" stroke-width="1.1" stroke-opacity="0.95" stroke-linejoin="round" />
<polyline points="305.00,45.57 305.55,45.45 306.10,47.02 306.65,47.82 307.20,49.60 307.75,52.44 308.30,55.94 308.85,59.31 309.40,62.04 309.95,64.59 310.50,67.33 311.05,69.69 311.60,71.43 312.15,73.29 312.70,75.71 313.25,77.26 313.80,78.29 314.35,80.50 314.90,81.86 315.45,83.36 316.00,84.67 316.55,85.70 317.10,86.65 317.65,87.97 318.20,89.01 318.75,90.56 319.30,90.47 319.85,92.15 320.40,91.99 320.95,92.80 321.50,93.95 322.05,94.49 322.60,94.49 323.15,94.44 323.70,95.37 324.25,95.57 324.80,96.60 325.35,95.89 325.90,96.37 326.45,97.35 327.00,96.33 327.55,97.07 328.10,97.85 328.65,97.97 329.20,97.04 329.75,97.18 330.30,97.37 330.85,98.86 331.40,97.92 331.95,98.82 332.50,99.17 333.05,98.31 333.60,98.26 334.15,99.51 334.70,98.97 335.25,98.40 335.80,99.26 336.35,98.58 336.90,98.54 337.45,98.06 338.00,99.52 338.55,99.86 339.10,99.36 339.65,100.00 340.20,98.20 340.75,98.65 341.30,99.16 341.85,100.18 342.40,100.20 342.95,99.05 343.50,98.79 344.05,99.20 344.60,99.36" fill="none" stroke="#3a78aa" stroke-width="0.75" stroke-opacity="0.75" stroke-linejoin="round" />
<polyline points="300.70,100.30 300.85,98.81 301.05,96.84 301.28,94.51 301.54,91.90 301.82,89.11 302.12,86.22 302.41,83.35 302.69,80.57 302.96,77.99 303.20,75.70 303.42,73.60 303.65,71.54 303.87,69.53 304.08,67.59 304.29,65.72 304.50,63.94 304.69,62.27 304.87,60.71 305.04,59.29 305.20,58.00 305.34,56.88 305.47,55.92 305.58,55.10 305.68,54.41 305.77,53.81 305.86,53.28 305.94,52.81 306.02,52.37 306.11,51.94 306.20,51.50 306.29,51.06 306.38,50.66 306.47,50.30 306.56,49.98 306.64,49.69 306.73,49.45 306.82,49.25 306.91,49.09 307.00,48.97 307.10,48.90 307.20,48.87 307.30,48.87 307.40,48.92 307.50,49.01 307.61,49.14 307.71,49.31 307.83,49.53 307.94,49.81 308.07,50.13 308.20,50.50 308.34,50.93" fill="none" stroke="#e698a6" stroke-width="0.8" stroke-opacity="1.0" stroke-linejoin="round" />
<polyline points="306.90,49.32 307.45,48.80 308.00,50.11 308.55,51.81 309.10,54.07 309.65,56.42 310.20,58.74 310.75,61.10 311.30,63.63 311.85,66.12 312.40,68.72 312.95,70.44 313.50,72.62 314.05,74.96 314.60,76.30 315.15,77.78 315.70,79.28 316.25,81.12 316.80,82.21 317.35,83.93 317.90,84.87 318.45,85.90 319.00,86.08 319.55,86.67 320.10,87.37 320.65,88.40 321.20,89.21 321.75,89.48 322.30,89.75 322.85,90.41 323.40,91.06 323.95,91.53 324.50,92.00 325.05,92.48 325.60,92.61 326.15,92.28 326.70,93.46 327.25,93.07 327.80,93.68 328.35,93.67 328.90,94.36 329.45,93.86 330.00,94.11 330.55,94.29 331.10,94.34 331.65,95.53 332.20,95.28 332.75,95.10 333.30,95.38 333.85,96.44 334.40,95.90 334.95,95.66 335.50,96.72 336.05,96.65 336.60,97.36 337.15,96.10 337.70,96.86 338.25,97.58 338.80,97.76 339.35,98.04 339.90,96.69 340.45,97.25 341.00,97.06 341.55,97.29 342.10,98.79 342.65,98.20 343.20,98.94 343.75,98.02 344.30,99.04 344.85,98.36 345.40,98.09 345.95,99.18 346.50,99.60 347.05,98.06 347.60,99.12" fill="none" stroke="#b8163e" stroke-width="1.1" stroke-opacity="0.95" stroke-linejoin="round" />
<polyline points="306.90,49.16 307.45,48.82 308.00,49.88 308.55,51.48 309.10,53.71 309.65,56.11 310.20,58.74 310.75,61.31 311.30,63.55 311.85,65.88 312.40,68.40 312.95,70.87 313.50,72.61 314.05,74.63 314.60,76.27 315.15,78.36 315.70,79.70 316.25,80.71 316.80,82.02 317.35,83.41 317.90,84.57 318.45,85.58 319.00,85.92 319.55,86.74 320.10,87.96 320.65,88.32 321.20,88.77 321.75,89.34 322.30,90.52 322.85,90.30 323.40,91.00 323.95,91.17 324.50,91.62 325.05,92.50 325.60,93.00 326.15,92.57 326.70,92.67 327.25,93.61 327.80,93.22 328.35,93.20 328.90,94.57 329.45,94.16 330.00,94.88 330.55,94.51 331.10,95.35 331.65,94.94 332.20,94.69 332.75,94.65 333.30,95.61 333.85,95.92 334.40,96.51 334.95,95.44 335.50,96.43 336.05,96.21 336.60,96.59 337.15,96.17 337.70,96.55 338.25,97.09 338.80,97.91 339.35,96.68 339.90,97.46 340.45,98.13 341.00,98.54 341.55,97.30 342.10,97.28 342.65,98.85 343.20,99.02 343.75,98.22 344.30,97.52 344.85,99.26 345.40,98.33 345.95,99.42 346.50,98.97 347.05,99.47 347.60,98.25" fill="none" stroke="#d24a6c" stroke-width="0.75" stroke-opacity="0.75" stroke-linejoin="round" />
<polygon points="329.00,100.00 329.00,97.89 329.55,99.68 330.10,98.77 330.65,99.22 331.20,97.79 331.75,99.71 332.30,99.20 332.85,99.55 333.40,98.51 333.95,99.56 334.50,99.42 335.05,99.66 335.60,98.03 336.15,99.18 336.70,99.61 337.25,99.43 337.80,97.96 338.35,99.82 338.90,97.77 339.45,99.76 340.00,98.32 340.55,99.44 341.10,98.26 341.65,99.62 342.20,98.73 342.75,99.41 343.30,98.72 343.85,99.36 344.40,98.67 344.95,99.52 345.50,99.65 346.05,99.39 346.60,98.57 347.15,99.67 347.70,97.94 348.25,99.27 348.80,98.65 349.35,99.72 349.90,98.61 350.45,99.77 351.00,99.40 351.55,99.53 352.10,99.49 352.65,99.52 353.20,98.53 353.75,99.82 354.30,98.24 354.85,99.79 355.40,98.01 355.95,99.27 356.50,98.52 357.05,99.81 357.60,98.54 358.15,99.57 358.70,97.51 359.25,99.75 359.80,97.73 360.35,99.10 360.90,98.02 361.45,99.24 362.00,99.25 362.55,99.11 363.10,98.57 363.65,99.13 364.20,97.59 364.75,99.73 365.30,97.89 365.85,99.15 366.40,99.55 366.95,99.59 366.95,100.00" fill="#343a88" fill-opacity="0.45" stroke="#343a88" stroke-width="0.7" stroke-opacity="0.8" stroke-linejoin="round"/>
<line x1="363.00" y1="99.60" x2="363.00" y2="93.60" stroke="#2a3a8a" stroke-width="1.0" />
<polyline points="425.90,100.30 426.00,98.17 426.14,95.33 426.29,91.92 426.47,88.12 426.66,84.09 426.86,79.98 427.06,75.95 427.25,72.17 427.43,68.80 427.60,66.00 427.75,63.67 427.90,61.58 428.05,59.72 428.19,58.05 428.33,56.57 428.47,55.24 428.60,54.04 428.74,52.95 428.87,51.94 429.00,51.00 429.13,50.17 429.25,49.50 429.38,48.98 429.50,48.57 429.62,48.28 429.74,48.06 429.85,47.90 429.97,47.79 430.08,47.69 430.20,47.60 430.31,47.54 430.42,47.54 430.53,47.60 430.63,47.71 430.74,47.87 430.84,48.06 430.95,48.27 431.06,48.51" fill="none" stroke="#e698a6" stroke-width="0.8" stroke-opacity="1.0" stroke-linejoin="round" />
<polyline points="429.60,48.48 430.15,47.43 430.70,48.07 431.25,48.75 431.80,50.28 432.35,51.21 432.90,53.13 433.45,55.26 434.00,56.59 434.55,58.56 435.10,60.73 435.65,62.60 436.20,64.42 436.75,66.59 437.30,68.52 437.85,71.17 438.40,72.75 438.95,74.74 439.50,75.65 440.05,77.93 440.60,78.75 441.15,80.62 441.70,81.96 442.25,82.66 442.80,84.20 443.35,84.64 443.90,85.43 444.45,86.54 445.00,86.20 445.55,88.06 446.10,88.21 446.65,88.49 447.20,89.61 447.75,89.33 448.30,90.84 448.85,90.61 449.40,90.63 449.95,91.57 450.50,91.35 451.05,91.20 451.60,92.38 452.15,91.48 452.70,93.02 453.25,92.30 453.80,93.21 454.35,94.06 454.90,93.60 455.45,93.97 456.00,93.55 456.55,93.18 457.10,93.43 457.65,93.84 458.20,94.94 458.75,94.77" fill="none" stroke="#b9122f" stroke-width="1.1" stroke-opacity="0.95" stroke-linejoin="round" />
<polyline points="429.60,48.33 430.15,47.89 430.70,47.57 431.25,48.71 431.80,50.16 432.35,51.12 432.90,52.75 433.45,54.82 434.00,56.51 434.55,58.64 435.10,60.48 435.65,62.84 436.20,64.92 436.75,66.61 437.30,68.97 437.85,70.71 438.40,72.20 438.95,74.78 439.50,75.73 440.05,77.24 440.60,78.73 441.15,80.74 441.70,82.23 442.25,83.17 442.80,83.63 443.35,84.28 443.90,84.71 444.45,86.23 445.00,86.80 445.55,87.19 446.10,88.23 446.65,88.56 447.20,89.81 447.75,90.02 448.30,89.74 448.85,91.11 449.40,90.14 449.95,91.20 450.50,91.30 451.05,91.30 451.60,91.26 452.15,92.70 452.70,91.66 453.25,92.81 453.80,93.73 454.35,92.57 454.90,92.90 455.45,93.87 456.00,93.91 456.55,94.38 457.10,94.91 457.65,93.89 458.20,94.34 458.75,94.51" fill="none" stroke="#cf3556" stroke-width="0.77" stroke-opacity="0.75" stroke-linejoin="round" />
<polyline points="425.70,100.30 425.80,97.96 425.94,94.82 426.10,91.06 426.28,86.87 426.47,82.42 426.67,77.90 426.87,73.47 427.06,69.33 427.24,65.64 427.40,62.60 427.55,60.09 427.69,57.88 427.83,55.93 427.96,54.21 428.09,52.69 428.21,51.34 428.34,50.12 428.46,49.02 428.58,47.99 428.70,47.00 428.82,46.11 428.93,45.37 429.04,44.77 429.15,44.30 429.26,43.93 429.36,43.64 429.47,43.44 429.58,43.29 429.69,43.18 429.80,43.10 429.91,43.08 430.03,43.16 430.14,43.32 430.26,43.54 430.38,43.83 430.49,44.14 430.61,44.49 430.74,44.84" fill="none" stroke="#93a5c2" stroke-width="0.8" stroke-opacity="1.0" stroke-linejoin="round" />
<polyline points="429.30,43.54 429.85,43.34 430.40,44.08 430.95,45.53 431.50,46.18 432.05,48.08 432.60,49.74 433.15,51.63 433.70,54.12 434.25,56.19 434.80,58.26 435.35,60.38 435.90,62.74 436.45,64.76 437.00,67.16 437.55,69.58 438.10,71.44 438.65,73.43 439.20,75.03 439.75,76.19 440.30,78.14 440.85,79.49 441.40,81.22 441.95,82.01 442.50,82.66 443.05,84.02 443.60,85.25 444.15,84.99 444.70,86.60 445.25,86.06 445.80,87.07 446.35,87.64 446.90,88.97 447.45,89.78 448.00,89.94 448.55,89.69 449.10,90.95 449.65,90.39 450.20,90.55 450.75,91.98 451.30,91.79 451.85,92.17 452.40,92.38 452.95,93.21 453.50,92.52 454.05,93.44 454.60,93.40 455.15,93.92 455.70,93.32 456.25,94.10 456.80,93.99 457.35,93.65 457.90,93.63 458.45,94.66 459.00,93.67 459.55,95.60 460.10,94.09 460.65,93.96 461.20,94.25 461.75,96.22 462.30,95.00 462.85,94.63 463.40,94.45 463.95,94.56 464.50,96.21 465.05,96.15 465.60,96.39 466.15,96.58 466.70,94.97 467.25,96.37 467.80,95.85 468.35,97.10 468.90,97.18 469.45,97.45 470.00,95.30 470.55,97.53 471.10,97.73 471.65,97.89 472.20,95.61 472.75,95.94 473.30,95.72 473.85,95.54 474.40,97.95 474.95,97.91 475.50,97.45 476.05,98.07 476.60,97.54 477.15,96.54 477.70,95.99 478.25,96.01 478.80,98.11 479.35,96.40 479.90,96.78 480.45,97.15 481.00,95.86 481.55,96.64 482.10,96.75 482.65,98.21 483.20,97.07 483.75,96.93 484.30,99.16 484.85,97.61 485.40,98.84 485.95,98.06 486.50,96.01 487.05,97.38 487.60,97.49 488.15,98.72 488.70,97.20 489.25,98.53 489.80,97.94 490.35,96.76 490.90,99.20 491.45,96.31 492.00,99.10 492.55,96.63 493.10,95.98 493.65,96.77 494.20,98.98 494.75,99.87 495.30,96.02" fill="none" stroke="#2a3c8c" stroke-width="1.25" stroke-opacity="0.9" stroke-linejoin="round" />
<polyline points="429.30,43.80 429.85,43.09 430.40,44.09 430.95,45.16 431.50,46.53 432.05,47.71 432.60,49.81 433.15,51.47 433.70,54.29 434.25,56.05 434.80,58.25 435.35,60.92 435.90,62.99 436.45,64.83 437.00,67.46 437.55,68.90 438.10,71.54 438.65,73.27 439.20,75.11 439.75,76.60 440.30,77.91 440.85,79.45 441.40,80.74 441.95,82.47 442.50,82.43 443.05,84.34 443.60,84.00 444.15,84.98 444.70,85.75 445.25,87.32 445.80,87.41 446.35,87.85 446.90,89.18 447.45,88.70 448.00,89.50 448.55,90.01 449.10,90.74 449.65,91.09 450.20,91.23 450.75,91.03 451.30,91.26 451.85,91.23 452.40,92.70 452.95,92.63 453.50,93.02 454.05,92.18 454.60,92.90 455.15,93.76 455.70,93.60 456.25,92.91 456.80,93.78 457.35,94.83 457.90,93.69 458.45,93.76 459.00,94.15 459.55,95.16 460.10,95.61 460.65,94.24 461.20,94.36 461.75,94.67 462.30,94.96 462.85,95.51 463.40,94.77 463.95,95.25 464.50,95.00 465.05,96.98 465.60,96.47 466.15,94.99 466.70,97.23 467.25,95.12 467.80,95.91 468.35,97.53 468.90,97.12 469.45,97.03 470.00,96.30 470.55,95.71 471.10,96.97 471.65,95.56 472.20,95.89 472.75,96.46 473.30,95.50 473.85,96.59 474.40,97.79 474.95,97.56 475.50,97.05 476.05,97.49 476.60,97.03 477.15,96.09 477.70,97.55 478.25,96.97 478.80,98.06 479.35,98.63 479.90,97.14 480.45,97.63 481.00,98.23 481.55,97.18 482.10,96.57 482.65,98.24 483.20,98.80 483.75,98.47 484.30,98.25 484.85,98.81 485.40,98.24 485.95,98.14 486.50,97.50 487.05,97.02 487.60,98.17 488.15,96.28 488.70,97.46 489.25,98.82 489.80,98.59 490.35,98.30 490.90,96.90 491.45,97.57 492.00,97.71 492.55,98.36 493.10,97.56 493.65,98.62 494.20,99.65 494.75,96.72 495.30,98.61" fill="none" stroke="#4a4a9c" stroke-width="1.0" stroke-opacity="0.75" stroke-linejoin="round" />
<polyline points="439.40,75.40 439.53,75.77 439.70,76.25 439.90,76.83 440.12,77.47 440.36,78.16 440.61,78.87 440.88,79.58 441.15,80.27 441.43,80.92" fill="none" stroke="#8a4a80" stroke-width="0.01" stroke-opacity="1.0" stroke-linejoin="round" />
<polyline points="440.00,77.69 440.55,78.47 441.10,80.12 441.65,82.38 442.20,81.47 442.75,83.46 443.30,83.48 443.85,85.59 444.40,86.66 444.95,86.43 445.50,86.16 446.05,87.87 446.60,88.39 447.15,89.34 447.70,89.35 448.25,90.07 448.80,90.92 449.35,90.54 449.90,90.60 450.45,92.22 451.00,90.69 451.55,92.15 452.10,91.68 452.65,92.87 453.20,91.47 453.75,93.93 454.30,92.52 454.85,91.95 455.40,92.73 455.95,93.27 456.50,92.42 457.05,93.72 457.60,93.91 458.15,94.86 458.70,94.06 459.25,93.97 459.80,94.00 460.35,95.62 460.90,96.34 461.45,95.26 462.00,94.47 462.55,96.31 463.10,95.18 463.65,94.74 464.20,94.57 464.75,96.63 465.30,96.82 465.85,96.37 466.40,95.93 466.95,96.30 467.50,95.30 468.05,97.73 468.60,95.84 469.15,96.83 469.70,97.49 470.25,97.55 470.80,96.46 471.35,95.94 471.90,96.85 472.45,95.47 473.00,97.95 473.55,96.36 474.10,98.13 474.65,96.15 475.20,96.58 475.75,96.19 476.30,96.85 476.85,96.02 477.40,95.39 477.95,98.03 478.50,96.45 479.05,96.34 479.60,96.57 480.15,97.25 480.70,97.08 481.25,97.89 481.80,97.99 482.35,96.88 482.90,99.07 483.45,98.81 484.00,95.73 484.55,98.77 485.10,99.11 485.65,98.66 486.20,96.11 486.75,98.91 487.30,98.13 487.85,95.64 488.40,95.64 488.95,99.52 489.50,98.33 490.05,96.66 490.60,96.05 491.15,96.24 491.70,96.63 492.25,98.96 492.80,97.14 493.35,96.33 493.90,99.59 494.45,99.13 495.00,96.43" fill="none" stroke="#8a4a80" stroke-width="0.9" stroke-opacity="0.55" stroke-linejoin="round" />
<line x1="493.50" y1="99.60" x2="493.50" y2="94.50" stroke="#3a4c9a" stroke-width="1.0" />
<polyline points="54.10,221.80 54.22,219.88 54.38,217.33 54.57,214.27 54.78,210.85 55.01,207.22 55.25,203.52 55.48,199.89 55.71,196.49 55.92,193.44 56.10,190.90 56.27,188.78 56.42,186.88 56.58,185.19 56.72,183.67 56.86,182.31 57.00,181.08 57.13,179.96 57.26,178.92 57.38,177.94 57.50,177.00 57.62,176.12 57.72,175.35 57.83,174.68 57.92,174.10 58.02,173.61 58.11,173.21 58.21,172.88 58.30,172.62 58.40,172.43 58.50,172.30 58.60,172.23 58.71,172.22 58.81,172.28 58.92,172.41 59.03,172.61 59.13,172.90 59.24,173.28 59.36,173.75 59.48,174.32 59.60,175.00 59.72,175.82 59.85,176.79 59.97,177.90 60.10,179.11 60.23,180.39 60.37,181.71 60.51,183.05 60.66,184.39 60.83,185.68 61.00,186.90 61.19,188.10 61.40,189.35 61.63,190.61 61.86,191.87 62.10,193.13 62.34,194.35 62.57,195.52 62.80,196.63 63.01,197.67 63.20,198.60 63.37,199.42 63.51,200.13 63.63,200.75 63.75,201.31 63.86,201.82 63.97,202.32 64.09,202.81 64.24,203.32 64.40,203.88 64.60,204.50" fill="none" stroke="#8e9bb3" stroke-width="0.8" stroke-opacity="1.0" stroke-linejoin="round" />
<polyline points="63.30,199.37 63.85,201.87 64.40,204.07 64.95,205.68 65.50,207.44 66.05,208.84 66.60,210.20 67.15,210.93 67.70,212.27 68.25,213.04 68.80,213.98 69.35,214.50 69.90,215.51 70.45,215.95 71.00,216.39 71.55,217.01 72.10,217.58 72.65,218.45 73.20,218.73 73.75,219.54 74.30,219.78 74.85,220.40 75.40,220.69 75.95,220.91 76.50,221.25 77.05,220.73 77.60,221.38" fill="none" stroke="#1a4679" stroke-width="1.3" stroke-opacity="0.95" stroke-linejoin="round" />
<polyline points="74.18,221.40 74.63,218.99 75.08,221.40" fill="#2d5a96" fill-opacity="0.595" stroke="#2d5a96" stroke-width="0.45" stroke-opacity="0.85"/>
<polyline points="74.30,221.40 74.75,219.71 75.20,221.40" fill="#2d5a96" fill-opacity="0.595" stroke="#2d5a96" stroke-width="0.45" stroke-opacity="0.85"/>
<polyline points="75.21,221.40 75.66,219.32 76.11,221.40" fill="#2d5a96" fill-opacity="0.595" stroke="#2d5a96" stroke-width="0.45" stroke-opacity="0.85"/>
<polyline points="78.19,221.40 78.64,219.25 79.09,221.40" fill="#2d5a96" fill-opacity="0.595" stroke="#2d5a96" stroke-width="0.45" stroke-opacity="0.85"/>
<polyline points="79.99,221.40 80.44,218.21 80.89,221.40" fill="#2d5a96" fill-opacity="0.595" stroke="#2d5a96" stroke-width="0.45" stroke-opacity="0.85"/>
<polyline points="80.82,221.40 81.27,216.50 81.72,221.40" fill="#2d5a96" fill-opacity="0.595" stroke="#2d5a96" stroke-width="0.45" stroke-opacity="0.85"/>
<polyline points="81.00,221.40 81.45,217.49 81.90,221.40" fill="#2d5a96" fill-opacity="0.595" stroke="#2d5a96" stroke-width="0.45" stroke-opacity="0.85"/>
<polyline points="81.61,221.40 82.06,216.86 82.51,221.40" fill="#2d5a96" fill-opacity="0.595" stroke="#2d5a96" stroke-width="0.45" stroke-opacity="0.85"/>
<polyline points="81.80,221.40 82.25,218.40 82.70,221.40" fill="#2d5a96" fill-opacity="0.595" stroke="#2d5a96" stroke-width="0.45" stroke-opacity="0.85"/>
<polyline points="82.76,221.40 83.21,218.26 83.66,221.40" fill="#2d5a96" fill-opacity="0.595" stroke="#2d5a96" stroke-width="0.45" stroke-opacity="0.85"/>
<polyline points="82.84,221.40 83.29,218.31 83.74,221.40" fill="#2d5a96" fill-opacity="0.595" stroke="#2d5a96" stroke-width="0.45" stroke-opacity="0.85"/>
<polyline points="83.12,221.40 83.57,217.19 84.02,221.40" fill="#2d5a96" fill-opacity="0.595" stroke="#2d5a96" stroke-width="0.45" stroke-opacity="0.85"/>
<polyline points="83.85,221.40 84.30,216.82 84.75,221.40" fill="#2d5a96" fill-opacity="0.595" stroke="#2d5a96" stroke-width="0.45" stroke-opacity="0.85"/>
<polyline points="83.99,221.40 84.44,216.19 84.89,221.40" fill="#2d5a96" fill-opacity="0.595" stroke="#2d5a96" stroke-width="0.45" stroke-opacity="0.85"/>
<polyline points="84.21,221.40 84.66,219.09 85.11,221.40" fill="#2d5a96" fill-opacity="0.595" stroke="#2d5a96" stroke-width="0.45" stroke-opacity="0.85"/>
<polyline points="84.78,221.40 85.23,216.21 85.68,221.40" fill="#2d5a96" fill-opacity="0.595" stroke="#2d5a96" stroke-width="0.45" stroke-opacity="0.85"/>
<polyline points="85.11,221.40 85.56,215.44 86.01,221.40" fill="#2d5a96" fill-opacity="0.595" stroke="#2d5a96" stroke-width="0.45" stroke-opacity="0.85"/>
<polyline points="85.74,221.40 86.19,216.71 86.64,221.40" fill="#2d5a96" fill-opacity="0.595" stroke="#2d5a96" stroke-width="0.45" stroke-opacity="0.85"/>
<polyline points="85.93,221.40 86.38,218.83 86.83,221.40" fill="#2d5a96" fill-opacity="0.595" stroke="#2d5a96" stroke-width="0.45" stroke-opacity="0.85"/>
<polyline points="86.96,221.40 87.41,217.54 87.86,221.40" fill="#2d5a96" fill-opacity="0.595" stroke="#2d5a96" stroke-width="0.45" stroke-opacity="0.85"/>
<polyline points="87.31,221.40 87.76,218.85 88.21,221.40" fill="#2d5a96" fill-opacity="0.595" stroke="#2d5a96" stroke-width="0.45" stroke-opacity="0.85"/>
<polyline points="87.54,221.40 87.99,217.96 88.44,221.40" fill="#2d5a96" fill-opacity="0.595" stroke="#2d5a96" stroke-width="0.45" stroke-opacity="0.85"/>
<polyline points="87.56,221.40 88.01,214.49 88.46,221.40" fill="#2d5a96" fill-opacity="0.595" stroke="#2d5a96" stroke-width="0.45" stroke-opacity="0.85"/>
<polyline points="88.19,221.40 88.64,215.82 89.09,221.40" fill="#2d5a96" fill-opacity="0.595" stroke="#2d5a96" stroke-width="0.45" stroke-opacity="0.85"/>
<polyline points="88.57,221.40 89.02,215.47 89.47,221.40" fill="#2d5a96" fill-opacity="0.595" stroke="#2d5a96" stroke-width="0.45" stroke-opacity="0.85"/>
<polyline points="89.35,221.40 89.80,214.60 90.25,221.40" fill="#2d5a96" fill-opacity="0.595" stroke="#2d5a96" stroke-width="0.45" stroke-opacity="0.85"/>
<polyline points="90.50,221.40 90.95,213.61 91.40,221.40" fill="#2d5a96" fill-opacity="0.595" stroke="#2d5a96" stroke-width="0.45" stroke-opacity="0.85"/>
<polyline points="91.74,221.40 92.19,214.90 92.64,221.40" fill="#2d5a96" fill-opacity="0.595" stroke="#2d5a96" stroke-width="0.45" stroke-opacity="0.85"/>
<polyline points="92.04,221.40 92.49,214.79 92.94,221.40" fill="#2d5a96" fill-opacity="0.595" stroke="#2d5a96" stroke-width="0.45" stroke-opacity="0.85"/>
<polyline points="92.51,221.40 92.96,214.61 93.41,221.40" fill="#2d5a96" fill-opacity="0.595" stroke="#2d5a96" stroke-width="0.45" stroke-opacity="0.85"/>
<polyline points="93.30,221.40 93.75,213.99 94.20,221.40" fill="#2d5a96" fill-opacity="0.595" stroke="#2d5a96" stroke-width="0.45" stroke-opacity="0.85"/>
<polyline points="94.04,221.40 94.49,214.40 94.94,221.40" fill="#2d5a96" fill-opacity="0.595" stroke="#2d5a96" stroke-width="0.45" stroke-opacity="0.85"/>
<polyline points="94.68,221.40 95.13,213.71 95.58,221.40" fill="#2d5a96" fill-opacity="0.595" stroke="#2d5a96" stroke-width="0.45" stroke-opacity="0.85"/>
<polyline points="95.15,221.40 95.60,216.59 96.05,221.40" fill="#2d5a96" fill-opacity="0.595" stroke="#2d5a96" stroke-width="0.45" stroke-opacity="0.85"/>
<polyline points="72.00,220.37 72.60,220.16 73.20,220.47 73.80,219.82 74.40,219.90 75.00,219.76 75.60,220.50 76.20,220.65 76.80,220.40 77.40,220.11 78.00,220.57 78.60,220.54 79.20,220.32 79.80,220.02 80.40,220.07 81.00,220.20 81.60,220.10 82.20,220.22 82.80,220.43 83.40,220.73 84.00,219.85 84.60,220.37 85.20,219.85 85.80,219.93 86.40,220.63 87.00,220.40 87.60,220.75 88.20,220.28 88.80,219.85 89.40,220.23 90.00,220.44 90.60,220.79 91.20,220.84 91.80,220.34 92.40,220.28 93.00,219.98 93.60,220.52 94.20,220.10 94.80,220.04 95.40,219.91 96.00,219.90" fill="none" stroke="#2d5a96" stroke-width="1.2" stroke-opacity="0.9" stroke-linejoin="round" />
<polyline points="76.00,221.60 76.15,221.31 76.34,220.92 76.56,220.46 76.81,219.95 77.08,219.40 77.36,218.84 77.65,218.27 77.94,217.73 78.23,217.24 78.50,216.80 78.76,216.41 79.00,216.04 79.24,215.68 79.47,215.34 79.72,215.01 79.98,214.70 80.26,214.41 80.57,214.12 80.91,213.86 81.30,213.60 81.74,213.36 82.24,213.13 82.79,212.91 83.36,212.71 83.96,212.52 84.55,212.34 85.14,212.19 85.70,212.04 86.23,211.91 86.70,211.80 87.13,211.71 87.53,211.63 87.91,211.57 88.27,211.53 88.61,211.51 88.94,211.49 89.26,211.48 89.58,211.48 89.89,211.49 90.20,211.50 90.51,211.52 90.81,211.54 91.10,211.58 91.38,211.63 91.66,211.68 91.93,211.74 92.20,211.80 92.46,211.87 92.73,211.93 93.00,212.00 93.26,212.06 93.49,212.10 93.71,212.14 93.92,212.18 94.14,212.23 94.37,212.29 94.62,212.37 94.90,212.48 95.23,212.62 95.60,212.80" fill="none" stroke="#d4486a" stroke-width="0.8" stroke-opacity="1.0" stroke-linejoin="round" />
<polyline points="94.50,212.52 95.05,212.15 95.60,213.30 96.15,212.65 96.70,213.84 97.25,213.33 97.80,213.53 98.35,214.72 98.90,214.47 99.45,215.43 100.00,215.04 100.55,215.16 101.10,216.43 101.65,216.61 102.20,217.06 102.75,217.12 103.30,216.37 103.85,217.40 104.40,217.74 104.95,217.56 105.50,218.54 106.05,217.64 106.60,219.08 107.15,218.90 107.70,217.90 108.25,218.14 108.80,219.53 109.35,220.09 109.90,218.95 110.45,219.63 111.00,220.69 111.55,219.83" fill="none" stroke="#c41a42" stroke-width="1.5" stroke-opacity="0.95" stroke-linejoin="round" />
<polyline points="94.50,212.70 95.05,212.53 95.60,212.33 96.15,212.95 96.70,213.51 97.25,213.69 97.80,214.32 98.35,214.02 98.90,215.17 99.45,214.96 100.00,215.65 100.55,215.94 101.10,215.93 101.65,216.15 102.20,216.96 102.75,217.44 103.30,217.43 103.85,217.31 104.40,217.09 104.95,216.92 105.50,218.61 106.05,218.39 106.60,218.84 107.15,218.23 107.70,218.95 108.25,219.86 108.80,219.86 109.35,219.69 109.90,219.38 110.45,219.86 111.00,221.00 111.55,220.24" fill="none" stroke="#d83a60" stroke-width="0.9" stroke-opacity="0.75" stroke-linejoin="round" />
<polyline points="180.10,221.80 180.24,219.82 180.42,217.17 180.64,214.01 180.89,210.47 181.15,206.71 181.42,202.89 181.69,199.16 181.95,195.67 182.19,192.56 182.40,190.00 182.59,187.90 182.77,186.06 182.94,184.45 183.11,183.03 183.27,181.79 183.42,180.68 183.57,179.68 183.72,178.75 183.86,177.87 184.00,177.00 184.14,176.18 184.27,175.46 184.40,174.83 184.52,174.29 184.64,173.84 184.75,173.46 184.87,173.15 184.98,172.91 185.09,172.73 185.20,172.60 185.31,172.55 185.42,172.61 185.53,172.75 185.64,172.96 185.74,173.24 185.85,173.56 185.94,173.90 186.04,174.27 186.12,174.64 186.20,175.00 186.26,175.34 186.29,175.67 186.31,175.99 186.32,176.34 186.33,176.72 186.35,177.14 186.39,177.63 186.45,178.19 186.56,178.84 186.70,179.60 186.89,180.49 187.13,181.51 187.39,182.64 187.69,183.84" fill="none" stroke="#8e9bb3" stroke-width="0.8" stroke-opacity="1.0" stroke-linejoin="round" />
<polyline points="186.30,175.93 186.85,180.37 187.40,182.98 187.95,185.14 188.50,186.90 189.05,188.81 189.60,191.11 190.15,193.29 190.70,195.41 191.25,197.53 191.80,199.48 192.35,200.64 192.90,203.08 193.45,204.85 194.00,206.64 194.55,208.06 195.10,209.35 195.65,211.18 196.20,212.36 196.75,213.36 197.30,214.56 197.85,215.06 198.40,215.77 198.95,217.03 199.50,218.04 200.05,218.29 200.60,219.33 201.15,219.96 201.70,219.74 202.25,220.29 202.80,220.55 203.35,220.56 203.90,220.53" fill="none" stroke="#1a4679" stroke-width="1.3" stroke-opacity="0.95" stroke-linejoin="round" />
<polyline points="196.76,221.40 197.21,215.25 197.66,221.40" fill="#4a7db5" fill-opacity="0.5249999999999999" stroke="#4a7db5" stroke-width="0.4" stroke-opacity="0.75"/>
<polyline points="197.21,221.40 197.66,217.79 198.11,221.40" fill="#4a7db5" fill-opacity="0.5249999999999999" stroke="#4a7db5" stroke-width="0.4" stroke-opacity="0.75"/>
<polyline points="197.36,221.40 197.81,210.70 198.26,221.40" fill="#4a7db5" fill-opacity="0.5249999999999999" stroke="#4a7db5" stroke-width="0.4" stroke-opacity="0.75"/>
<polyline points="197.59,221.40 198.04,210.47 198.49,221.40" fill="#4a7db5" fill-opacity="0.5249999999999999" stroke="#4a7db5" stroke-width="0.4" stroke-opacity="0.75"/>
<polyline points="197.81,221.40 198.26,217.25 198.71,221.40" fill="#4a7db5" fill-opacity="0.5249999999999999" stroke="#4a7db5" stroke-width="0.4" stroke-opacity="0.75"/>
<polyline points="198.26,221.40 198.71,218.86 199.16,221.40" fill="#4a7db5" fill-opacity="0.5249999999999999" stroke="#4a7db5" stroke-width="0.4" stroke-opacity="0.75"/>
<polyline points="198.94,221.40 199.39,216.95 199.84,221.40" fill="#4a7db5" fill-opacity="0.5249999999999999" stroke="#4a7db5" stroke-width="0.4" stroke-opacity="0.75"/>
<polyline points="199.08,221.40 199.53,216.10 199.98,221.40" fill="#4a7db5" fill-opacity="0.5249999999999999" stroke="#4a7db5" stroke-width="0.4" stroke-opacity="0.75"/>
<polyline points="199.71,221.40 200.16,211.26 200.61,221.40" fill="#4a7db5" fill-opacity="0.5249999999999999" stroke="#4a7db5" stroke-width="0.4" stroke-opacity="0.75"/>
<polyline points="200.19,221.40 200.64,211.24 201.09,221.40" fill="#4a7db5" fill-opacity="0.5249999999999999" stroke="#4a7db5" stroke-width="0.4" stroke-opacity="0.75"/>
<polyline points="201.19,221.40 201.64,211.83 202.09,221.40" fill="#4a7db5" fill-opacity="0.5249999999999999" stroke="#4a7db5" stroke-width="0.4" stroke-opacity="0.75"/>
<polyline points="201.44,221.40 201.89,218.79 202.34,221.40" fill="#4a7db5" fill-opacity="0.5249999999999999" stroke="#4a7db5" stroke-width="0.4" stroke-opacity="0.75"/>
<polyline points="202.28,221.40 202.73,212.28 203.18,221.40" fill="#4a7db5" fill-opacity="0.5249999999999999" stroke="#4a7db5" stroke-width="0.4" stroke-opacity="0.75"/>
<polyline points="202.29,221.40 202.74,212.96 203.19,221.40" fill="#4a7db5" fill-opacity="0.5249999999999999" stroke="#4a7db5" stroke-width="0.4" stroke-opacity="0.75"/>
<polyline points="202.58,221.40 203.03,213.51 203.48,221.40" fill="#4a7db5" fill-opacity="0.5249999999999999" stroke="#4a7db5" stroke-width="0.4" stroke-opacity="0.75"/>
<polyline points="202.68,221.40 203.13,210.53 203.58,221.40" fill="#4a7db5" fill-opacity="0.5249999999999999" stroke="#4a7db5" stroke-width="0.4" stroke-opacity="0.75"/>
<polyline points="202.98,221.40 203.43,218.71 203.88,221.40" fill="#4a7db5" fill-opacity="0.5249999999999999" stroke="#4a7db5" stroke-width="0.4" stroke-opacity="0.75"/>
<polyline points="204.08,221.40 204.53,217.93 204.98,221.40" fill="#4a7db5" fill-opacity="0.5249999999999999" stroke="#4a7db5" stroke-width="0.4" stroke-opacity="0.75"/>
<polyline points="204.81,221.40 205.26,215.77 205.71,221.40" fill="#4a7db5" fill-opacity="0.5249999999999999" stroke="#4a7db5" stroke-width="0.4" stroke-opacity="0.75"/>
<polyline points="204.84,221.40 205.29,214.74 205.74,221.40" fill="#4a7db5" fill-opacity="0.5249999999999999" stroke="#4a7db5" stroke-width="0.4" stroke-opacity="0.75"/>
<polyline points="204.92,221.40 205.37,216.21 205.82,221.40" fill="#4a7db5" fill-opacity="0.5249999999999999" stroke="#4a7db5" stroke-width="0.4" stroke-opacity="0.75"/>
<polyline points="205.08,221.40 205.53,218.33 205.98,221.40" fill="#4a7db5" fill-opacity="0.5249999999999999" stroke="#4a7db5" stroke-width="0.4" stroke-opacity="0.75"/>
<polyline points="207.95,221.40 208.40,216.69 208.85,221.40" fill="#4a7db5" fill-opacity="0.5249999999999999" stroke="#4a7db5" stroke-width="0.4" stroke-opacity="0.75"/>
<polyline points="208.57,221.40 209.02,215.76 209.47,221.40" fill="#4a7db5" fill-opacity="0.5249999999999999" stroke="#4a7db5" stroke-width="0.4" stroke-opacity="0.75"/>
<polyline points="208.95,221.40 209.40,219.41 209.85,221.40" fill="#4a7db5" fill-opacity="0.5249999999999999" stroke="#4a7db5" stroke-width="0.4" stroke-opacity="0.75"/>
<polyline points="209.61,221.40 210.06,218.19 210.51,221.40" fill="#4a7db5" fill-opacity="0.5249999999999999" stroke="#4a7db5" stroke-width="0.4" stroke-opacity="0.75"/>
<polyline points="209.76,221.40 210.21,218.56 210.66,221.40" fill="#4a7db5" fill-opacity="0.5249999999999999" stroke="#4a7db5" stroke-width="0.4" stroke-opacity="0.75"/>
<polyline points="209.94,221.40 210.39,219.30 210.84,221.40" fill="#4a7db5" fill-opacity="0.5249999999999999" stroke="#4a7db5" stroke-width="0.4" stroke-opacity="0.75"/>
<polyline points="210.75,221.40 211.20,217.30 211.65,221.40" fill="#4a7db5" fill-opacity="0.5249999999999999" stroke="#4a7db5" stroke-width="0.4" stroke-opacity="0.75"/>
<polyline points="211.86,221.40 212.31,219.06 212.76,221.40" fill="#4a7db5" fill-opacity="0.5249999999999999" stroke="#4a7db5" stroke-width="0.4" stroke-opacity="0.75"/>
<polyline points="211.91,221.40 212.36,218.66 212.81,221.40" fill="#4a7db5" fill-opacity="0.5249999999999999" stroke="#4a7db5" stroke-width="0.4" stroke-opacity="0.75"/>
<polyline points="212.49,221.40 212.94,219.20 213.39,221.40" fill="#4a7db5" fill-opacity="0.5249999999999999" stroke="#4a7db5" stroke-width="0.4" stroke-opacity="0.75"/>
<polyline points="212.83,221.40 213.28,216.21 213.73,221.40" fill="#4a7db5" fill-opacity="0.5249999999999999" stroke="#4a7db5" stroke-width="0.4" stroke-opacity="0.75"/>
<polyline points="213.89,221.40 214.34,219.93 214.79,221.40" fill="#4a7db5" fill-opacity="0.5249999999999999" stroke="#4a7db5" stroke-width="0.4" stroke-opacity="0.75"/>
<polyline points="213.97,221.40 214.42,215.98 214.87,221.40" fill="#4a7db5" fill-opacity="0.5249999999999999" stroke="#4a7db5" stroke-width="0.4" stroke-opacity="0.75"/>
<polyline points="214.05,221.40 214.50,218.91 214.95,221.40" fill="#4a7db5" fill-opacity="0.5249999999999999" stroke="#4a7db5" stroke-width="0.4" stroke-opacity="0.75"/>
<polyline points="215.28,221.40 215.73,219.80 216.18,221.40" fill="#4a7db5" fill-opacity="0.5249999999999999" stroke="#4a7db5" stroke-width="0.4" stroke-opacity="0.75"/>
<polyline points="215.52,221.40 215.97,214.80 216.42,221.40" fill="#4a7db5" fill-opacity="0.5249999999999999" stroke="#4a7db5" stroke-width="0.4" stroke-opacity="0.75"/>
<polyline points="215.52,221.40 215.97,218.76 216.42,221.40" fill="#4a7db5" fill-opacity="0.5249999999999999" stroke="#4a7db5" stroke-width="0.4" stroke-opacity="0.75"/>
<polyline points="215.62,221.40 216.07,214.77 216.52,221.40" fill="#4a7db5" fill-opacity="0.5249999999999999" stroke="#4a7db5" stroke-width="0.4" stroke-opacity="0.75"/>
<polyline points="216.05,221.40 216.50,215.15 216.95,221.40" fill="#4a7db5" fill-opacity="0.5249999999999999" stroke="#4a7db5" stroke-width="0.4" stroke-opacity="0.75"/>
<polyline points="216.38,221.40 216.83,215.02 217.28,221.40" fill="#4a7db5" fill-opacity="0.5249999999999999" stroke="#4a7db5" stroke-width="0.4" stroke-opacity="0.75"/>
<polyline points="216.65,221.40 217.10,219.22 217.55,221.40" fill="#4a7db5" fill-opacity="0.5249999999999999" stroke="#4a7db5" stroke-width="0.4" stroke-opacity="0.75"/>
<polyline points="216.68,221.40 217.13,217.50 217.58,221.40" fill="#4a7db5" fill-opacity="0.5249999999999999" stroke="#4a7db5" stroke-width="0.4" stroke-opacity="0.75"/>
<polyline points="217.88,221.40 218.33,216.68 218.78,221.40" fill="#4a7db5" fill-opacity="0.5249999999999999" stroke="#4a7db5" stroke-width="0.4" stroke-opacity="0.75"/>
<polyline points="218.15,221.40 218.60,205.37 219.05,221.40" fill="#4a7db5" fill-opacity="0.5249999999999999" stroke="#4a7db5" stroke-width="0.4" stroke-opacity="0.75"/>
<polyline points="219.16,221.40 219.61,206.55 220.06,221.40" fill="#4a7db5" fill-opacity="0.5249999999999999" stroke="#4a7db5" stroke-width="0.4" stroke-opacity="0.75"/>
<polyline points="220.24,221.40 220.69,209.45 221.14,221.40" fill="#4a7db5" fill-opacity="0.5249999999999999" stroke="#4a7db5" stroke-width="0.4" stroke-opacity="0.75"/>
<polyline points="221.96,221.40 222.41,211.85 222.86,221.40" fill="#4a7db5" fill-opacity="0.5249999999999999" stroke="#4a7db5" stroke-width="0.4" stroke-opacity="0.75"/>
<polyline points="222.52,221.40 222.97,213.38 223.42,221.40" fill="#4a7db5" fill-opacity="0.5249999999999999" stroke="#4a7db5" stroke-width="0.4" stroke-opacity="0.75"/>
<polyline points="222.69,221.40 223.14,206.81 223.59,221.40" fill="#4a7db5" fill-opacity="0.5249999999999999" stroke="#4a7db5" stroke-width="0.4" stroke-opacity="0.75"/>
<polyline points="222.93,221.40 223.38,211.51 223.83,221.40" fill="#4a7db5" fill-opacity="0.5249999999999999" stroke="#4a7db5" stroke-width="0.4" stroke-opacity="0.75"/>
<polyline points="223.21,221.40 223.66,209.46 224.11,221.40" fill="#4a7db5" fill-opacity="0.5249999999999999" stroke="#4a7db5" stroke-width="0.4" stroke-opacity="0.75"/>
<polyline points="223.36,221.40 223.81,216.06 224.26,221.40" fill="#4a7db5" fill-opacity="0.5249999999999999" stroke="#4a7db5" stroke-width="0.4" stroke-opacity="0.75"/>
<polyline points="223.88,221.40 224.33,214.99 224.78,221.40" fill="#4a7db5" fill-opacity="0.5249999999999999" stroke="#4a7db5" stroke-width="0.4" stroke-opacity="0.75"/>
<polyline points="224.30,221.40 224.75,217.23 225.20,221.40" fill="#4a7db5" fill-opacity="0.5249999999999999" stroke="#4a7db5" stroke-width="0.4" stroke-opacity="0.75"/>
<polyline points="225.93,221.40 226.38,208.29 226.83,221.40" fill="#4a7db5" fill-opacity="0.5249999999999999" stroke="#4a7db5" stroke-width="0.4" stroke-opacity="0.75"/>
<polyline points="226.09,221.40 226.54,210.47 226.99,221.40" fill="#4a7db5" fill-opacity="0.5249999999999999" stroke="#4a7db5" stroke-width="0.4" stroke-opacity="0.75"/>
<polyline points="226.59,221.40 227.04,216.03 227.49,221.40" fill="#4a7db5" fill-opacity="0.5249999999999999" stroke="#4a7db5" stroke-width="0.4" stroke-opacity="0.75"/>
<polyline points="226.99,221.40 227.44,206.16 227.89,221.40" fill="#4a7db5" fill-opacity="0.5249999999999999" stroke="#4a7db5" stroke-width="0.4" stroke-opacity="0.75"/>
<polyline points="227.44,221.40 227.89,214.38 228.34,221.40" fill="#4a7db5" fill-opacity="0.5249999999999999" stroke="#4a7db5" stroke-width="0.4" stroke-opacity="0.75"/>
<polyline points="228.70,221.40 229.15,212.40 229.60,221.40" fill="#4a7db5" fill-opacity="0.5249999999999999" stroke="#4a7db5" stroke-width="0.4" stroke-opacity="0.75"/>
<polyline points="228.73,221.40 229.18,215.88 229.63,221.40" fill="#4a7db5" fill-opacity="0.5249999999999999" stroke="#4a7db5" stroke-width="0.4" stroke-opacity="0.75"/>
<polyline points="229.05,221.40 229.50,214.31 229.95,221.40" fill="#4a7db5" fill-opacity="0.5249999999999999" stroke="#4a7db5" stroke-width="0.4" stroke-opacity="0.75"/>
<polyline points="229.15,221.40 229.60,206.58 230.05,221.40" fill="#4a7db5" fill-opacity="0.5249999999999999" stroke="#4a7db5" stroke-width="0.4" stroke-opacity="0.75"/>
<polyline points="229.29,221.40 229.74,213.45 230.19,221.40" fill="#4a7db5" fill-opacity="0.5249999999999999" stroke="#4a7db5" stroke-width="0.4" stroke-opacity="0.75"/>
<polyline points="230.22,221.40 230.67,215.72 231.12,221.40" fill="#4a7db5" fill-opacity="0.5249999999999999" stroke="#4a7db5" stroke-width="0.4" stroke-opacity="0.75"/>
<polyline points="230.45,221.40 230.90,211.32 231.35,221.40" fill="#4a7db5" fill-opacity="0.5249999999999999" stroke="#4a7db5" stroke-width="0.4" stroke-opacity="0.75"/>
<polyline points="197.00,219.55 197.60,220.37 198.20,219.27 198.80,220.49 199.40,219.21 200.00,220.39 200.60,220.08 201.20,219.45 201.80,219.82 202.40,219.56 203.00,219.53 203.60,219.46 204.20,219.69 204.80,220.58 205.40,220.60 206.00,220.50 206.60,219.35 207.20,219.63 207.80,220.48 208.40,219.31 209.00,220.26 209.60,219.66 210.20,220.63 210.80,219.28 211.40,220.40 212.00,219.75 212.60,219.48 213.20,219.29 213.80,220.46 214.40,220.04 215.00,219.57 215.60,219.93 216.20,220.60 216.80,219.64 217.40,220.14 218.00,219.54 218.60,219.61 219.20,220.44 219.80,220.36 220.40,219.65 221.00,219.49 221.60,219.51 222.20,220.25 222.80,220.10 223.40,219.79 224.00,219.71 224.60,220.28 225.20,220.42 225.80,220.58 226.40,220.26 227.00,219.74 227.60,219.55 228.20,220.49 228.80,220.05 229.40,220.49 230.00,219.57 230.60,220.63" fill="none" stroke="#2f5f9a" stroke-width="1.1" stroke-opacity="0.85" stroke-linejoin="round" />
<polyline points="191.00,221.80 191.14,221.33 191.33,220.72 191.54,220.00 191.78,219.19 192.04,218.32 192.32,217.42 192.61,216.50 192.90,215.61 193.20,214.77 193.50,214.00 193.81,213.27 194.14,212.52 194.48,211.78 194.83,211.04 195.19,210.32 195.55,209.62 195.91,208.97 196.26,208.35 196.59,207.79 196.90,207.30 197.19,206.87 197.47,206.50 197.74,206.18 198.00,205.91 198.26,205.68 198.51,205.47 198.75,205.29 199.00,205.12 199.25,204.96 199.50,204.80 199.75,204.65 200.01,204.52 200.26,204.40 200.51,204.30 200.76,204.22 201.00,204.16 201.25,204.12 201.50,204.10 201.75,204.09 202.00,204.10 202.25,204.13 202.50,204.19 202.75,204.27 203.00,204.36" fill="none" stroke="#e07890" stroke-width="0.8" stroke-opacity="1.0" stroke-linejoin="round" />
<polyline points="201.50,203.96 202.05,204.39 202.60,204.52 203.15,204.43 203.70,204.30 204.25,205.41 204.80,205.37 205.35,206.13 205.90,206.01 206.45,206.41 207.00,207.53 207.55,207.60 208.10,207.93 208.65,208.68 209.20,209.47 209.75,209.41 210.30,210.51 210.85,210.99 211.40,211.62 211.95,211.73 212.50,212.94 213.05,213.61 213.60,214.23 214.15,214.14 214.70,215.15 215.25,215.31 215.80,216.31 216.35,216.02 216.90,217.63 217.45,218.34 218.00,218.32 218.55,218.83 219.10,219.26 219.65,219.63 220.20,219.24 220.75,220.78 221.30,219.94 221.85,220.02 222.40,220.00 222.95,220.29 223.50,221.18 224.05,220.06 224.60,220.20 225.15,221.14 225.70,220.41 226.25,220.16 226.80,221.09 227.35,221.08 227.90,221.03" fill="none" stroke="#c41a42" stroke-width="1.2" stroke-opacity="0.95" stroke-linejoin="round" />
<polyline points="201.50,204.26 202.05,203.78 202.60,204.53 203.15,204.62 203.70,204.32 204.25,204.71 204.80,205.39 205.35,205.79 205.90,206.02 206.45,206.35 207.00,207.12 207.55,207.37 208.10,208.36 208.65,209.18 209.20,209.00 209.75,210.00 210.30,210.75 210.85,210.68 211.40,211.96 211.95,212.64 212.50,212.57 213.05,213.16 213.60,214.20 214.15,214.38 214.70,214.77 215.25,215.99 215.80,216.34 216.35,216.36 216.90,216.83 217.45,217.55 218.00,218.24 218.55,219.44 219.10,219.62 219.65,220.14 220.20,220.33 220.75,220.62 221.30,219.70 221.85,220.49 222.40,221.23 222.95,221.28 223.50,220.34 224.05,220.65 224.60,221.00 225.15,220.64 225.70,220.92 226.25,220.24 226.80,220.83 227.35,220.97 227.90,220.23" fill="none" stroke="#d83a60" stroke-width="0.7" stroke-opacity="0.75" stroke-linejoin="round" />
<polygon points="226.00,221.40 226.00,220.93 226.50,220.52 227.00,220.17 227.50,220.55 228.00,220.34 228.50,220.64 229.00,220.04 229.50,220.59 230.00,221.06 230.50,220.77 231.00,220.78 231.50,220.74 232.00,220.77 232.50,220.84 233.00,219.99 233.50,220.78 234.00,220.80 234.50,220.86 235.00,220.58 235.50,220.54 236.00,220.75 236.50,221.02 237.00,220.32 237.50,221.16 238.00,220.39 238.50,220.53 239.00,220.48 239.50,221.05 240.00,220.54 240.50,220.85 240.50,221.40" fill="#b01840" fill-opacity="0.55" stroke="#b01840" stroke-width="0.8" stroke-opacity="0.7" stroke-linejoin="round"/>
<polyline points="303.10,221.80 303.26,219.89 303.48,217.33 303.73,214.28 304.01,210.87 304.32,207.25 304.63,203.56 304.95,199.93 305.26,196.52 305.54,193.46 305.80,190.90 306.04,188.74 306.27,186.79 306.50,185.02 306.72,183.43 306.94,181.99 307.15,180.68 307.35,179.50 307.54,178.42 307.73,177.42 307.90,176.50 308.06,175.70 308.21,175.06 308.36,174.56 308.49,174.18 308.61,173.89 308.73,173.67 308.85,173.49 308.97,173.34 309.08,173.18 309.20,173.00 309.32,172.81 309.43,172.65 309.54,172.52 309.65,172.42 309.76,172.35 309.86,172.31 309.97,172.29 310.08,172.30 310.19,172.34 310.30,172.40 310.42,172.49 310.53,172.62 310.65,172.78 310.76,172.96 310.88,173.18 311.00,173.41 311.12,173.66 311.25,173.93 311.37,174.21 311.50,174.50 311.63,174.78 311.75,175.04 311.86,175.29 311.98,175.56 312.11,175.86 312.24,176.19 312.38,176.59 312.53,177.06 312.71,177.63 312.90,178.30 313.12,179.12 313.37,180.08 313.64,181.17 313.93,182.33 314.22,183.54 314.52,184.77 314.82,185.97 315.10,187.12 315.36,188.17 315.60,189.10 315.81,189.91 316.00,190.65 316.18,191.32 316.34,191.94 316.50,192.53 316.66,193.10 316.82,193.65 317.00,194.21 317.19,194.79 317.40,195.40 317.63,196.03 317.88,196.65 318.14,197.26 318.42,197.88 318.69,198.50" fill="none" stroke="#8c96aa" stroke-width="0.8" stroke-opacity="1.0" stroke-linejoin="round" />
<polyline points="317.20,194.54 317.75,196.01 318.30,197.31 318.85,198.66 319.40,199.98 319.95,201.14 320.50,202.50 321.05,203.88 321.60,205.87 322.15,207.63 322.70,208.69 323.25,209.82 323.80,211.03 324.35,211.58 324.90,213.13 325.45,213.74 326.00,214.64 326.55,215.41 327.10,215.85 327.65,216.19 328.20,216.58 328.75,216.98 329.30,217.75 329.85,217.93 330.40,218.54 330.95,218.04 331.50,218.79 332.05,219.76 332.60,219.06 333.15,219.72 333.70,219.80 334.25,219.64 334.80,220.88 335.35,219.93 335.90,220.84 336.45,219.97 337.00,219.93 337.55,221.37 338.10,220.72 338.65,220.12 339.20,220.73 339.75,220.87" fill="none" stroke="#2a5e9a" stroke-width="1.05" stroke-opacity="0.95" stroke-linejoin="round" />
<polyline points="317.20,195.01 317.75,195.99 318.30,197.39 318.85,199.24 319.40,200.28 319.95,201.02 320.50,202.59 321.05,204.13 321.60,206.00 322.15,207.40 322.70,208.94 323.25,210.09 323.80,210.88 324.35,212.18 324.90,213.17 325.45,214.08 326.00,214.55 326.55,215.62 327.10,216.14 327.65,216.95 328.20,216.43 328.75,217.82 329.30,217.07 329.85,218.45 330.40,218.54 330.95,218.72 331.50,219.66 332.05,219.34 332.60,219.32 333.15,220.06 333.70,220.38 334.25,220.13 334.80,219.93 335.35,220.18 335.90,220.33 336.45,220.90 337.00,220.31 337.55,220.56 338.10,220.91 338.65,220.68 339.20,220.61 339.75,221.40" fill="none" stroke="#4a86b8" stroke-width="0.8" stroke-opacity="0.75" stroke-linejoin="round" />
<polyline points="304.90,221.80 305.17,221.00 305.53,219.94 305.95,218.67 306.42,217.25 306.93,215.74 307.46,214.20 307.98,212.68 308.49,211.23 308.97,209.92 309.40,208.80 309.79,207.84 310.16,206.98 310.52,206.18 310.87,205.45 311.21,204.78 311.54,204.13 311.87,203.52 312.21,202.92 312.55,202.31 312.90,201.70 313.26,201.08 313.63,200.46 314.00,199.85 314.38,199.26 314.75,198.69 315.12,198.15 315.48,197.63 315.84,197.15 316.18,196.70 316.50,196.30 316.81,195.94 317.10,195.61 317.39,195.31 317.66,195.04 317.93,194.81 318.19,194.60 318.45,194.43 318.70,194.29 318.95,194.18 319.20,194.10 319.45,194.06 319.69,194.06 319.92,194.10 320.15,194.17 320.38,194.27" fill="none" stroke="#e0a0ac" stroke-width="0.8" stroke-opacity="1.0" stroke-linejoin="round" />
<polyline points="319.00,194.44 319.55,194.06 320.10,194.11 320.65,194.16 321.20,194.62 321.75,194.87 322.30,195.77 322.85,196.38 323.40,196.51 323.95,197.85 324.50,197.81 325.05,198.86 325.60,199.40 326.15,200.07 326.70,199.83 327.25,200.62 327.80,201.72 328.35,201.33 328.90,201.97 329.45,203.19 330.00,203.75 330.55,204.91 331.10,205.40 331.65,205.79 332.20,207.01 332.75,207.08 333.30,207.74 333.85,208.63 334.40,208.93 334.95,209.56 335.50,210.55 336.05,210.88 336.60,212.34 337.15,212.59 337.70,212.98 338.25,212.98 338.80,213.96 339.35,214.57 339.90,215.36 340.45,215.91 341.00,216.88 341.55,217.49 342.10,217.19 342.65,217.51 343.20,218.16 343.75,219.09 344.30,218.35 344.85,218.95 345.40,219.69 345.95,218.88 346.50,219.36 347.05,220.69 347.60,220.61 348.15,220.24 348.70,219.68 349.25,221.20 349.80,220.98" fill="none" stroke="#c42a4c" stroke-width="1.15" stroke-opacity="0.95" stroke-linejoin="round" />
<polyline points="319.00,194.42 319.55,194.46 320.10,194.48 320.65,194.36 321.20,194.49 321.75,195.00 322.30,195.71 322.85,196.31 323.40,196.60 323.95,197.14 324.50,198.11 325.05,198.62 325.60,198.91 326.15,200.10 326.70,200.28 327.25,200.21 327.80,201.18 328.35,202.18 328.90,202.26 329.45,203.33 330.00,203.18 330.55,204.18 331.10,205.48 331.65,205.84 332.20,206.61 332.75,206.68 333.30,207.72 333.85,208.46 334.40,208.77 334.95,209.94 335.50,210.46 336.05,211.75 336.60,211.82 337.15,212.22 337.70,212.42 338.25,213.06 338.80,214.51 339.35,214.14 339.90,214.68 340.45,215.31 341.00,216.34 341.55,217.27 342.10,217.38 342.65,218.08 343.20,217.27 343.75,217.52 344.30,219.04 344.85,218.61 345.40,219.53 345.95,219.19 346.50,219.11 347.05,219.48 347.60,219.36 348.15,220.92 348.70,220.51 349.25,220.23 349.80,220.55" fill="none" stroke="#e05a78" stroke-width="0.8" stroke-opacity="0.75" stroke-linejoin="round" />
<polygon points="344.00,221.40 344.00,220.25 344.50,221.21 345.00,218.93 345.50,220.79 346.00,218.54 346.50,220.89 347.00,219.30 347.50,221.03 348.00,220.96 348.50,220.41 349.00,218.22 349.50,220.95 350.00,217.86 350.50,220.45 351.00,219.93 351.50,220.64 352.00,217.19 352.50,220.73 353.00,217.01 353.50,220.99 354.00,219.33 354.50,220.44 355.00,220.04 355.50,220.89 356.00,216.72 356.50,220.67 357.00,216.94 357.50,220.95 358.00,220.15 358.50,220.79 359.00,220.03 359.50,219.98 360.00,219.37 360.50,220.49 361.00,220.39 361.50,220.51 362.00,218.63 362.50,220.68 363.00,220.66 363.50,221.07 364.00,215.42 364.50,220.72 365.00,219.36 365.50,220.96 366.00,219.02 366.50,220.88 367.00,220.84 367.50,220.18 367.50,221.40" fill="#5a4a90" fill-opacity="0.55" stroke="#5a4a90" stroke-width="0.8" stroke-opacity="0.8" stroke-linejoin="round"/>
<line x1="366.30" y1="221.20" x2="366.30" y2="211.50" stroke="#6a5aa0" stroke-width="0.9" />
<polyline points="427.00,221.80 427.10,220.25 427.23,218.19 427.39,215.72 427.57,212.97 427.76,210.04 427.95,207.05 428.15,204.11 428.35,201.33 428.53,198.82 428.70,196.70 428.86,194.90 429.02,193.25 429.18,191.76 429.34,190.39 429.49,189.14 429.65,187.98 429.79,186.90 429.94,185.89 430.07,184.93 430.20,184.00 430.32,183.15 430.43,182.41 430.53,181.78 430.63,181.22 430.73,180.72 430.82,180.25 430.91,179.80 431.00,179.33 431.10,178.84 431.20,178.30 431.31,177.71 431.42,177.09 431.53,176.45 431.64,175.81 431.75,175.18 431.86,174.57 431.97,173.98 432.08,173.43 432.19,172.93 432.30,172.50 432.40,172.12 432.51,171.77 432.61,171.45 432.71,171.17 432.81,170.93 432.90,170.73 433.00,170.56 433.10,170.43 433.20,170.35 433.30,170.30 433.40,170.31 433.50,170.37 433.60,170.48 433.70,170.64 433.80,170.83 433.90,171.04 434.00,171.27 434.10,171.51 434.20,171.76 434.30,172.00 434.39,172.22 434.48,172.40 434.55,172.58 434.63,172.77" fill="none" stroke="#8ea2c4" stroke-width="0.75" stroke-opacity="1.0" stroke-linejoin="round" />
<polyline points="433.20,170.24 433.75,170.48 434.30,172.15 434.85,173.11 435.40,175.21 435.95,177.85 436.50,179.55 437.05,182.05 437.60,184.53 438.15,186.51 438.70,187.81 439.25,189.76 439.80,191.86 440.35,193.35 440.90,195.78 441.45,196.98 442.00,199.58 442.55,200.94 443.10,202.32 443.65,204.15 444.20,205.31 444.75,207.29 445.30,208.04 445.85,209.85 446.40,210.53 446.95,211.26 447.50,212.03 448.05,213.33 448.60,213.71 449.15,215.30 449.70,215.15 450.25,216.34 450.80,217.05 451.35,217.32 451.90,218.55 452.45,218.56 453.00,219.37 453.55,219.64 454.10,219.65 454.65,220.11" fill="none" stroke="#3a527c" stroke-width="0.85" stroke-opacity="0.95" stroke-linejoin="round" />
<polyline points="433.20,170.06 433.75,170.50 434.30,172.26 434.85,173.28 435.40,175.51 435.95,177.27 436.50,179.90 437.05,181.98 437.60,184.25 438.15,186.07 438.70,187.73 439.25,189.72 439.80,191.41 440.35,193.12 440.90,195.55 441.45,197.05 442.00,199.05 442.55,201.34 443.10,202.88 443.65,204.60 444.20,206.08 444.75,206.68 445.30,208.06 445.85,208.89 446.40,210.64 446.95,211.59 447.50,212.15 448.05,213.10 448.60,214.24 449.15,215.09 449.70,215.30 450.25,216.76 450.80,216.81 451.35,217.78 451.90,217.78 452.45,218.21 453.00,219.71 453.55,219.87 454.10,220.21 454.65,219.63" fill="none" stroke="#4a7ab0" stroke-width="0.5" stroke-opacity="0.75" stroke-linejoin="round" />
<polyline points="427.00,221.80 427.25,220.87 427.59,219.60 427.99,218.09 428.44,216.42 428.91,214.69 429.39,212.98 429.86,211.39 430.30,210.00 430.73,208.77 431.16,207.58 431.61,206.45 432.05,205.37 432.49,204.36 432.91,203.40 433.32,202.52 433.70,201.70 434.06,200.96 434.42,200.29 434.76,199.68 435.08,199.14 435.39,198.66 435.68,198.23 435.95,197.84 436.20,197.50 436.43,197.22 436.64,197.00 436.83,196.85 437.01,196.74 437.16,196.66 437.29,196.60 437.41,196.56 437.50,196.50" fill="none" stroke="#e58a9b" stroke-width="0.75" stroke-opacity="1.0" stroke-linejoin="round" />
<polyline points="436.00,194.16 436.62,201.71 437.14,195.74 437.71,203.78 438.44,197.37 439.11,203.08 439.75,194.50 440.56,201.29 441.08,197.92 441.60,201.10 442.14,197.67 443.01,203.37 443.54,197.28 444.34,203.73 444.95,194.86 445.62,204.23 446.40,197.45 447.15,202.59 447.67,197.29 448.38,205.55 448.93,195.79 449.75,203.88 450.47,198.38 451.19,205.72 451.71,195.93" fill="none" stroke="#ee98aa" stroke-width="0.8" stroke-opacity="0.75" stroke-linejoin="round" />
<polyline points="436.50,193.97 437.27,201.07 437.86,196.56 438.74,201.58 439.36,196.63 439.99,203.67 440.71,195.88 441.45,202.08 442.26,197.10 442.90,200.93 443.43,193.87 444.11,200.51 444.73,196.37 445.30,200.33 445.81,198.47 446.34,203.44 447.23,195.53 447.91,201.87 448.62,194.53 449.38,205.13 450.25,197.11 450.85,204.74 451.36,197.60 451.98,206.69" fill="none" stroke="#e26a86" stroke-width="0.6" stroke-opacity="0.8" stroke-linejoin="round" />
<polyline points="436.50,198.90 437.00,199.19 437.50,197.29 438.00,198.97 438.50,199.16 439.00,199.01 439.50,197.99 440.00,197.68 440.50,199.39 441.00,198.11 441.50,198.26 442.00,198.75 442.50,198.31 443.00,199.54 443.50,198.05 444.00,197.61 444.50,199.06 445.00,199.31 445.50,199.90 446.00,199.72 446.50,200.36 447.00,200.61 447.50,199.60 448.00,199.80 448.50,199.13 449.00,199.75 449.50,200.75 450.00,199.73 450.50,201.60 451.00,200.53 451.50,201.56 452.00,203.22" fill="none" stroke="#c8284c" stroke-width="0.8" stroke-opacity="0.8" stroke-linejoin="round" />
<polyline points="449.00,198.40 449.62,212.40 450.29,201.86 450.89,215.89 451.84,202.88 452.61,212.89 453.47,202.42 454.24,214.14 455.01,203.83 455.94,219.00 456.61,202.91 457.39,217.38 458.13,203.17 458.76,216.43 459.55,207.33 460.51,221.15 461.50,208.21 462.35,221.40 462.97,207.62 463.81,218.92 464.64,209.65 465.43,221.40" fill="none" stroke="#ee8ea2" stroke-width="1.0" stroke-opacity="0.75" stroke-linejoin="round" />
<polyline points="449.50,199.78 450.45,209.96 451.13,202.06 451.91,211.14 452.77,201.45 453.61,214.35 454.42,203.09 455.18,213.07 455.85,205.23 456.67,213.84 457.61,203.19 458.25,217.61 458.95,204.88 459.77,216.29 460.60,203.97 461.41,219.69 462.04,205.97 462.67,219.31 463.61,207.35 464.50,221.40 465.14,210.06" fill="none" stroke="#de5a78" stroke-width="0.5" stroke-opacity="0.85" stroke-linejoin="round" />
<polyline points="436.00,178.10 436.90,182.13 437.80,184.89 438.70,187.69 439.60,191.44 440.50,194.04 441.40,197.36 442.30,199.77 443.20,203.17 444.10,205.00 445.00,207.38 445.90,209.38 446.80,210.66 447.70,212.74 448.60,213.76 449.50,215.10 450.40,216.63 451.30,217.41" fill="none" stroke="#2f4f80" stroke-width="0.9" stroke-opacity="0.85" stroke-linejoin="round" stroke-dasharray="1.0 0.7"/>
<polygon points="462.09,221.4 463.20,212.23 463.80,214.98 464.91,221.4" fill="#5a78b0" fill-opacity="0.5" stroke="#5a78b0" stroke-width="0.4" stroke-opacity="0.8"/>
<polygon points="465.84,221.4 467.10,213.21 467.70,215.67 468.96,221.4" fill="#8a5a9a" fill-opacity="0.5" stroke="#8a5a9a" stroke-width="0.4" stroke-opacity="0.8"/>
<polygon points="469.82,221.4 470.99,214.40 471.59,216.50 472.77,221.4" fill="#d27aa2" fill-opacity="0.5" stroke="#d27aa2" stroke-width="0.4" stroke-opacity="0.8"/>
<polygon points="473.33,221.4 474.47,212.61 475.07,215.25 476.21,221.4" fill="#4a6aa8" fill-opacity="0.5" stroke="#4a6aa8" stroke-width="0.4" stroke-opacity="0.8"/>
<polygon points="477.34,221.4 478.33,214.53 478.93,216.59 479.91,221.4" fill="#7a4a92" fill-opacity="0.5" stroke="#7a4a92" stroke-width="0.4" stroke-opacity="0.8"/>
<polygon points="480.96,221.4 482.12,212.06 482.72,214.86 483.88,221.4" fill="#5a78b0" fill-opacity="0.5" stroke="#5a78b0" stroke-width="0.4" stroke-opacity="0.8"/>
<polygon points="484.50,221.4 485.35,213.09 485.95,215.58 486.80,221.4" fill="#8a5a9a" fill-opacity="0.5" stroke="#8a5a9a" stroke-width="0.4" stroke-opacity="0.8"/>
<polygon points="488.14,221.4 488.99,212.49 489.59,215.16 490.45,221.4" fill="#d27aa2" fill-opacity="0.5" stroke="#d27aa2" stroke-width="0.4" stroke-opacity="0.8"/>
<polygon points="492.00,221.4 492.93,212.87 493.53,215.43 494.46,221.4" fill="#4a6aa8" fill-opacity="0.5" stroke="#4a6aa8" stroke-width="0.4" stroke-opacity="0.8"/>
<polygon points="452.00,221.40 452.00,220.34 452.50,220.62 453.00,220.11 453.50,221.16 454.00,221.06 454.50,221.17 455.00,219.74 455.50,221.11 456.00,220.16 456.50,221.03 457.00,219.93 457.50,220.96 458.00,220.85 458.50,220.59 459.00,220.18 459.50,220.73 460.00,219.73 460.50,220.54 461.00,221.08 461.50,220.99 462.00,220.84 462.50,220.87 463.00,219.62 463.50,220.65 464.00,221.04 464.50,221.11 465.00,219.71 465.50,220.74 466.00,220.43 466.50,220.89 467.00,220.83 467.50,220.62 468.00,220.43 468.50,220.60 469.00,220.06 469.50,221.19 470.00,220.54 470.50,221.09 471.00,219.58 471.50,220.81 472.00,221.03 472.50,221.12 473.00,220.49 473.50,220.90 474.00,220.12 474.50,220.96 475.00,220.50 475.50,221.25 476.00,220.12 476.50,221.00 477.00,221.07 477.50,220.91 478.00,219.42 478.50,221.22 479.00,220.85 479.50,220.75 480.00,220.64 480.50,221.04 481.00,220.25 481.50,221.05 482.00,220.13 482.50,220.85 483.00,219.47 483.50,220.51 484.00,221.04 484.50,220.83 485.00,219.79 485.50,220.60 486.00,219.78 486.50,220.78 487.00,220.02 487.50,220.98 488.00,220.62 488.50,220.65 489.00,219.62 489.50,220.55 490.00,219.94 490.50,221.02 491.00,219.80 491.50,220.70 492.00,220.23 492.50,220.77 493.00,220.50 493.50,220.84 494.00,220.41 494.50,221.20 495.00,220.53 495.50,221.01 495.50,221.40" fill="#5a3a80" fill-opacity="0.6" stroke="#5a3a80" stroke-width="0.6" stroke-opacity="0.8" stroke-linejoin="round"/>
<line x1="40.50" y1="354.70" x2="40.50" y2="292.30" stroke="#231f20" stroke-width="1.1" />
<line x1="37.90" y1="354.40" x2="40.50" y2="354.40" stroke="#231f20" stroke-width="1.0" />
<text transform="translate(34.20,357.30) scale(0.99,1)" font-size="8.4" text-anchor="end" font-weight="normal" fill="#231f20" stroke="#231f20" stroke-width="0.12">0</text>
<line x1="37.90" y1="342.48" x2="40.50" y2="342.48" stroke="#231f20" stroke-width="1.0" />
<text transform="translate(34.20,345.38) scale(0.99,1)" font-size="8.4" text-anchor="end" font-weight="normal" fill="#231f20" stroke="#231f20" stroke-width="0.12">5</text>
<line x1="37.90" y1="330.56" x2="40.50" y2="330.56" stroke="#231f20" stroke-width="1.0" />
<text transform="translate(34.20,333.46) scale(0.99,1)" font-size="8.4" text-anchor="end" font-weight="normal" fill="#231f20" stroke="#231f20" stroke-width="0.12">10</text>
<line x1="37.90" y1="318.64" x2="40.50" y2="318.64" stroke="#231f20" stroke-width="1.0" />
<text transform="translate(34.20,321.54) scale(0.99,1)" font-size="8.4" text-anchor="end" font-weight="normal" fill="#231f20" stroke="#231f20" stroke-width="0.12">15</text>
<line x1="37.90" y1="306.72" x2="40.50" y2="306.72" stroke="#231f20" stroke-width="1.0" />
<text transform="translate(34.20,309.62) scale(0.99,1)" font-size="8.4" text-anchor="end" font-weight="normal" fill="#231f20" stroke="#231f20" stroke-width="0.12">20</text>
<line x1="37.90" y1="294.80" x2="40.50" y2="294.80" stroke="#231f20" stroke-width="1.0" />
<text transform="translate(34.20,297.70) scale(0.99,1)" font-size="8.4" text-anchor="end" font-weight="normal" fill="#231f20" stroke="#231f20" stroke-width="0.12">25</text>
<line x1="37.90" y1="354.40" x2="112.20" y2="354.40" stroke="#231f20" stroke-width="1.1" />
<line x1="45.25" y1="315.30" x2="45.25" y2="311.49" stroke="#e8778a" stroke-width="0.8" />
<line x1="44.10" y1="311.49" x2="46.40" y2="311.49" stroke="#c84058" stroke-width="0.9" />
<rect x="43.00" y="315.30" width="4.5" height="39.10" fill="#b9122f"/>
<line x1="52.45" y1="333.90" x2="52.45" y2="327.22" stroke="#86a6c8" stroke-width="0.8" />
<line x1="51.30" y1="327.22" x2="53.60" y2="327.22" stroke="#3a5a80" stroke-width="0.9" />
<rect x="50.20" y="333.90" width="4.5" height="20.50" fill="#1a4679"/>
<line x1="48.90" y1="354.40" x2="48.90" y2="357.00" stroke="#231f20" stroke-width="1.0" />
<text transform="translate(48.90,367.70) scale(0.99,1)" font-size="8.4" text-anchor="middle" font-weight="normal" fill="#231f20" stroke="#231f20" stroke-width="0.12">0.0</text>
<line x1="63.65" y1="331.99" x2="63.65" y2="329.13" stroke="#e8778a" stroke-width="0.8" />
<line x1="62.50" y1="329.13" x2="64.80" y2="329.13" stroke="#c84058" stroke-width="0.9" />
<rect x="61.40" y="331.99" width="4.5" height="22.41" fill="#b9122f"/>
<line x1="70.85" y1="340.10" x2="70.85" y2="337.24" stroke="#86a6c8" stroke-width="0.8" />
<line x1="69.70" y1="337.24" x2="72.00" y2="337.24" stroke="#3a5a80" stroke-width="0.9" />
<rect x="68.60" y="340.10" width="4.5" height="14.30" fill="#1a4679"/>
<line x1="67.30" y1="354.40" x2="67.30" y2="357.00" stroke="#231f20" stroke-width="1.0" />
<text transform="translate(67.30,367.70) scale(0.99,1)" font-size="8.4" text-anchor="middle" font-weight="normal" fill="#231f20" stroke="#231f20" stroke-width="0.12">0.1</text>
<line x1="82.05" y1="347.25" x2="82.05" y2="345.94" stroke="#e8778a" stroke-width="0.8" />
<line x1="80.90" y1="345.94" x2="83.20" y2="345.94" stroke="#c84058" stroke-width="0.9" />
<rect x="79.80" y="347.25" width="4.5" height="7.15" fill="#b9122f"/>
<line x1="89.25" y1="348.44" x2="89.25" y2="347.37" stroke="#86a6c8" stroke-width="0.8" />
<line x1="88.10" y1="347.37" x2="90.40" y2="347.37" stroke="#3a5a80" stroke-width="0.9" />
<rect x="87.00" y="348.44" width="4.5" height="5.96" fill="#1a4679"/>
<line x1="85.70" y1="354.40" x2="85.70" y2="357.00" stroke="#231f20" stroke-width="1.0" />
<text transform="translate(85.70,367.70) scale(0.99,1)" font-size="8.4" text-anchor="middle" font-weight="normal" fill="#231f20" stroke="#231f20" stroke-width="0.12">1.0</text>
<line x1="100.45" y1="351.54" x2="100.45" y2="350.35" stroke="#e8778a" stroke-width="0.8" />
<line x1="99.30" y1="350.35" x2="101.60" y2="350.35" stroke="#c84058" stroke-width="0.9" />
<rect x="98.20" y="351.54" width="4.5" height="2.86" fill="#b9122f"/>
<line x1="107.65" y1="352.02" x2="107.65" y2="350.70" stroke="#86a6c8" stroke-width="0.8" />
<line x1="106.50" y1="350.70" x2="108.80" y2="350.70" stroke="#3a5a80" stroke-width="0.9" />
<rect x="105.40" y="352.02" width="4.5" height="2.38" fill="#1a4679"/>
<line x1="104.10" y1="354.40" x2="104.10" y2="357.00" stroke="#231f20" stroke-width="1.0" />
<text transform="translate(104.10,367.70) scale(0.99,1)" font-size="8.4" text-anchor="middle" font-weight="normal" fill="#231f20" stroke="#231f20" stroke-width="0.12">10</text>
<line x1="170.30" y1="354.70" x2="170.30" y2="292.30" stroke="#231f20" stroke-width="1.1" />
<line x1="167.70" y1="354.40" x2="170.30" y2="354.40" stroke="#231f20" stroke-width="1.0" />
<text transform="translate(164.00,357.30) scale(0.99,1)" font-size="8.4" text-anchor="end" font-weight="normal" fill="#231f20" stroke="#231f20" stroke-width="0.12">0</text>
<line x1="167.70" y1="334.53" x2="170.30" y2="334.53" stroke="#231f20" stroke-width="1.0" />
<text transform="translate(164.00,337.43) scale(0.99,1)" font-size="8.4" text-anchor="end" font-weight="normal" fill="#231f20" stroke="#231f20" stroke-width="0.12">100</text>
<line x1="167.70" y1="314.67" x2="170.30" y2="314.67" stroke="#231f20" stroke-width="1.0" />
<text transform="translate(164.00,317.57) scale(0.99,1)" font-size="8.4" text-anchor="end" font-weight="normal" fill="#231f20" stroke="#231f20" stroke-width="0.12">200</text>
<line x1="167.70" y1="294.80" x2="170.30" y2="294.80" stroke="#231f20" stroke-width="1.0" />
<text transform="translate(164.00,297.70) scale(0.99,1)" font-size="8.4" text-anchor="end" font-weight="normal" fill="#231f20" stroke="#231f20" stroke-width="0.12">300</text>
<line x1="167.70" y1="354.40" x2="242.00" y2="354.40" stroke="#231f20" stroke-width="1.1" />
<line x1="174.85" y1="328.37" x2="174.85" y2="322.41" stroke="#e8778a" stroke-width="0.8" />
<line x1="173.70" y1="322.41" x2="176.00" y2="322.41" stroke="#c84058" stroke-width="0.9" />
<rect x="172.60" y="328.37" width="4.5" height="26.03" fill="#b9122f"/>
<line x1="182.05" y1="321.82" x2="182.05" y2="315.46" stroke="#86a6c8" stroke-width="0.8" />
<line x1="180.90" y1="315.46" x2="183.20" y2="315.46" stroke="#3a5a80" stroke-width="0.9" />
<rect x="179.80" y="321.82" width="4.5" height="32.58" fill="#1a4679"/>
<line x1="178.50" y1="354.40" x2="178.50" y2="357.00" stroke="#231f20" stroke-width="1.0" />
<text transform="translate(178.50,367.70) scale(0.99,1)" font-size="8.4" text-anchor="middle" font-weight="normal" fill="#231f20" stroke="#231f20" stroke-width="0.12">0.0</text>
<line x1="193.25" y1="325.59" x2="193.25" y2="319.24" stroke="#e8778a" stroke-width="0.8" />
<line x1="192.10" y1="319.24" x2="194.40" y2="319.24" stroke="#c84058" stroke-width="0.9" />
<rect x="191.00" y="325.59" width="4.5" height="28.81" fill="#b9122f"/>
<line x1="200.45" y1="321.82" x2="200.45" y2="314.87" stroke="#86a6c8" stroke-width="0.8" />
<line x1="199.30" y1="314.87" x2="201.60" y2="314.87" stroke="#3a5a80" stroke-width="0.9" />
<rect x="198.20" y="321.82" width="4.5" height="32.58" fill="#1a4679"/>
<line x1="196.90" y1="354.40" x2="196.90" y2="357.00" stroke="#231f20" stroke-width="1.0" />
<text transform="translate(196.90,367.70) scale(0.99,1)" font-size="8.4" text-anchor="middle" font-weight="normal" fill="#231f20" stroke="#231f20" stroke-width="0.12">0.1</text>
<line x1="211.65" y1="315.66" x2="211.65" y2="306.52" stroke="#e8778a" stroke-width="0.8" />
<line x1="210.50" y1="306.52" x2="212.80" y2="306.52" stroke="#c84058" stroke-width="0.9" />
<rect x="209.40" y="315.66" width="4.5" height="38.74" fill="#b9122f"/>
<line x1="218.85" y1="313.47" x2="218.85" y2="304.14" stroke="#86a6c8" stroke-width="0.8" />
<line x1="217.70" y1="304.14" x2="220.00" y2="304.14" stroke="#3a5a80" stroke-width="0.9" />
<rect x="216.60" y="313.47" width="4.5" height="40.93" fill="#1a4679"/>
<line x1="215.30" y1="354.40" x2="215.30" y2="357.00" stroke="#231f20" stroke-width="1.0" />
<text transform="translate(215.30,367.70) scale(0.99,1)" font-size="8.4" text-anchor="middle" font-weight="normal" fill="#231f20" stroke="#231f20" stroke-width="0.12">1.0</text>
<line x1="230.05" y1="316.65" x2="230.05" y2="304.93" stroke="#e8778a" stroke-width="0.8" />
<line x1="228.90" y1="304.93" x2="231.20" y2="304.93" stroke="#c84058" stroke-width="0.9" />
<rect x="227.80" y="316.65" width="4.5" height="37.75" fill="#b9122f"/>
<line x1="237.25" y1="311.89" x2="237.25" y2="302.55" stroke="#86a6c8" stroke-width="0.8" />
<line x1="236.10" y1="302.55" x2="238.40" y2="302.55" stroke="#3a5a80" stroke-width="0.9" />
<rect x="235.00" y="311.89" width="4.5" height="42.51" fill="#1a4679"/>
<line x1="233.70" y1="354.40" x2="233.70" y2="357.00" stroke="#231f20" stroke-width="1.0" />
<text transform="translate(233.70,367.70) scale(0.99,1)" font-size="8.4" text-anchor="middle" font-weight="normal" fill="#231f20" stroke="#231f20" stroke-width="0.12">10</text>
<line x1="296.30" y1="354.70" x2="296.30" y2="292.30" stroke="#231f20" stroke-width="1.1" />
<line x1="293.70" y1="354.40" x2="296.30" y2="354.40" stroke="#231f20" stroke-width="1.0" />
<text transform="translate(290.00,357.30) scale(0.99,1)" font-size="8.4" text-anchor="end" font-weight="normal" fill="#231f20" stroke="#231f20" stroke-width="0.12">0</text>
<line x1="293.70" y1="342.48" x2="296.30" y2="342.48" stroke="#231f20" stroke-width="1.0" />
<text transform="translate(290.00,345.38) scale(0.99,1)" font-size="8.4" text-anchor="end" font-weight="normal" fill="#231f20" stroke="#231f20" stroke-width="0.12">5</text>
<line x1="293.70" y1="330.56" x2="296.30" y2="330.56" stroke="#231f20" stroke-width="1.0" />
<text transform="translate(290.00,333.46) scale(0.99,1)" font-size="8.4" text-anchor="end" font-weight="normal" fill="#231f20" stroke="#231f20" stroke-width="0.12">10</text>
<line x1="293.70" y1="318.64" x2="296.30" y2="318.64" stroke="#231f20" stroke-width="1.0" />
<text transform="translate(290.00,321.54) scale(0.99,1)" font-size="8.4" text-anchor="end" font-weight="normal" fill="#231f20" stroke="#231f20" stroke-width="0.12">15</text>
<line x1="293.70" y1="306.72" x2="296.30" y2="306.72" stroke="#231f20" stroke-width="1.0" />
<text transform="translate(290.00,309.62) scale(0.99,1)" font-size="8.4" text-anchor="end" font-weight="normal" fill="#231f20" stroke="#231f20" stroke-width="0.12">20</text>
<line x1="293.70" y1="294.80" x2="296.30" y2="294.80" stroke="#231f20" stroke-width="1.0" />
<text transform="translate(290.00,297.70) scale(0.99,1)" font-size="8.4" text-anchor="end" font-weight="normal" fill="#231f20" stroke="#231f20" stroke-width="0.12">25</text>
<line x1="293.70" y1="354.40" x2="368.00" y2="354.40" stroke="#231f20" stroke-width="1.1" />
<line x1="300.85" y1="307.20" x2="300.85" y2="299.57" stroke="#e8778a" stroke-width="0.8" />
<line x1="299.70" y1="299.57" x2="302.00" y2="299.57" stroke="#c84058" stroke-width="0.9" />
<rect x="298.60" y="307.20" width="4.5" height="47.20" fill="#b9122f"/>
<line x1="308.05" y1="332.23" x2="308.05" y2="330.80" stroke="#86a6c8" stroke-width="0.8" />
<line x1="306.90" y1="330.80" x2="309.20" y2="330.80" stroke="#3a5a80" stroke-width="0.9" />
<rect x="305.80" y="332.23" width="4.5" height="22.17" fill="#1a4679"/>
<line x1="304.50" y1="354.40" x2="304.50" y2="357.00" stroke="#231f20" stroke-width="1.0" />
<text transform="translate(304.50,367.70) scale(0.99,1)" font-size="8.4" text-anchor="middle" font-weight="normal" fill="#231f20" stroke="#231f20" stroke-width="0.12">0.0</text>
<line x1="319.25" y1="328.65" x2="319.25" y2="324.60" stroke="#e8778a" stroke-width="0.8" />
<line x1="318.10" y1="324.60" x2="320.40" y2="324.60" stroke="#c84058" stroke-width="0.9" />
<rect x="317.00" y="328.65" width="4.5" height="25.75" fill="#b9122f"/>
<line x1="326.45" y1="340.57" x2="326.45" y2="339.38" stroke="#86a6c8" stroke-width="0.8" />
<line x1="325.30" y1="339.38" x2="327.60" y2="339.38" stroke="#3a5a80" stroke-width="0.9" />
<rect x="324.20" y="340.57" width="4.5" height="13.83" fill="#1a4679"/>
<line x1="322.90" y1="354.40" x2="322.90" y2="357.00" stroke="#231f20" stroke-width="1.0" />
<text transform="translate(322.90,367.70) scale(0.99,1)" font-size="8.4" text-anchor="middle" font-weight="normal" fill="#231f20" stroke="#231f20" stroke-width="0.12">0.1</text>
<line x1="337.65" y1="346.77" x2="337.65" y2="345.10" stroke="#e8778a" stroke-width="0.8" />
<line x1="336.50" y1="345.10" x2="338.80" y2="345.10" stroke="#c84058" stroke-width="0.9" />
<rect x="335.40" y="346.77" width="4.5" height="7.63" fill="#b9122f"/>
<line x1="344.85" y1="348.20" x2="344.85" y2="347.49" stroke="#86a6c8" stroke-width="0.8" />
<line x1="343.70" y1="347.49" x2="346.00" y2="347.49" stroke="#3a5a80" stroke-width="0.9" />
<rect x="342.60" y="348.20" width="4.5" height="6.20" fill="#1a4679"/>
<line x1="341.30" y1="354.40" x2="341.30" y2="357.00" stroke="#231f20" stroke-width="1.0" />
<text transform="translate(341.30,367.70) scale(0.99,1)" font-size="8.4" text-anchor="middle" font-weight="normal" fill="#231f20" stroke="#231f20" stroke-width="0.12">1.0</text>
<line x1="356.05" y1="351.42" x2="356.05" y2="350.70" stroke="#e8778a" stroke-width="0.8" />
<line x1="354.90" y1="350.70" x2="357.20" y2="350.70" stroke="#c84058" stroke-width="0.9" />
<rect x="353.80" y="351.42" width="4.5" height="2.98" fill="#b9122f"/>
<line x1="363.25" y1="352.02" x2="363.25" y2="351.30" stroke="#86a6c8" stroke-width="0.8" />
<line x1="362.10" y1="351.30" x2="364.40" y2="351.30" stroke="#3a5a80" stroke-width="0.9" />
<rect x="361.00" y="352.02" width="4.5" height="2.38" fill="#1a4679"/>
<line x1="359.70" y1="354.40" x2="359.70" y2="357.00" stroke="#231f20" stroke-width="1.0" />
<text transform="translate(359.70,367.70) scale(0.99,1)" font-size="8.4" text-anchor="middle" font-weight="normal" fill="#231f20" stroke="#231f20" stroke-width="0.12">10</text>
<line x1="424.30" y1="354.70" x2="424.30" y2="292.30" stroke="#231f20" stroke-width="1.1" />
<line x1="421.70" y1="354.40" x2="424.30" y2="354.40" stroke="#231f20" stroke-width="1.0" />
<text transform="translate(418.00,357.30) scale(0.99,1)" font-size="8.4" text-anchor="end" font-weight="normal" fill="#231f20" stroke="#231f20" stroke-width="0.12">0</text>
<line x1="421.70" y1="339.50" x2="424.30" y2="339.50" stroke="#231f20" stroke-width="1.0" />
<text transform="translate(418.00,342.40) scale(0.99,1)" font-size="8.4" text-anchor="end" font-weight="normal" fill="#231f20" stroke="#231f20" stroke-width="0.12">100</text>
<line x1="421.70" y1="324.60" x2="424.30" y2="324.60" stroke="#231f20" stroke-width="1.0" />
<text transform="translate(418.00,327.50) scale(0.99,1)" font-size="8.4" text-anchor="end" font-weight="normal" fill="#231f20" stroke="#231f20" stroke-width="0.12">200</text>
<line x1="421.70" y1="309.70" x2="424.30" y2="309.70" stroke="#231f20" stroke-width="1.0" />
<text transform="translate(418.00,312.60) scale(0.99,1)" font-size="8.4" text-anchor="end" font-weight="normal" fill="#231f20" stroke="#231f20" stroke-width="0.12">300</text>
<line x1="421.70" y1="294.80" x2="424.30" y2="294.80" stroke="#231f20" stroke-width="1.0" />
<text transform="translate(418.00,297.70) scale(0.99,1)" font-size="8.4" text-anchor="end" font-weight="normal" fill="#231f20" stroke="#231f20" stroke-width="0.12">400</text>
<line x1="421.70" y1="354.40" x2="496.00" y2="354.40" stroke="#231f20" stroke-width="1.1" />
<line x1="428.85" y1="337.71" x2="428.85" y2="336.22" stroke="#e8778a" stroke-width="0.8" />
<line x1="427.70" y1="336.22" x2="430.00" y2="336.22" stroke="#c84058" stroke-width="0.9" />
<rect x="426.60" y="337.71" width="4.5" height="16.69" fill="#b9122f"/>
<line x1="436.05" y1="311.49" x2="436.05" y2="299.27" stroke="#86a6c8" stroke-width="0.8" />
<line x1="434.90" y1="299.27" x2="437.20" y2="299.27" stroke="#3a5a80" stroke-width="0.9" />
<rect x="433.80" y="311.49" width="4.5" height="42.91" fill="#1a4679"/>
<line x1="432.50" y1="354.40" x2="432.50" y2="357.00" stroke="#231f20" stroke-width="1.0" />
<text transform="translate(432.50,367.70) scale(0.99,1)" font-size="8.4" text-anchor="middle" font-weight="normal" fill="#231f20" stroke="#231f20" stroke-width="0.12">0.0</text>
<line x1="447.25" y1="334.73" x2="447.25" y2="332.05" stroke="#e8778a" stroke-width="0.8" />
<line x1="446.10" y1="332.05" x2="448.40" y2="332.05" stroke="#c84058" stroke-width="0.9" />
<rect x="445.00" y="334.73" width="4.5" height="19.67" fill="#b9122f"/>
<line x1="454.45" y1="310.74" x2="454.45" y2="299.27" stroke="#86a6c8" stroke-width="0.8" />
<line x1="453.30" y1="299.27" x2="455.60" y2="299.27" stroke="#3a5a80" stroke-width="0.9" />
<rect x="452.20" y="310.74" width="4.5" height="43.66" fill="#1a4679"/>
<line x1="450.90" y1="354.40" x2="450.90" y2="357.00" stroke="#231f20" stroke-width="1.0" />
<text transform="translate(450.90,367.70) scale(0.99,1)" font-size="8.4" text-anchor="middle" font-weight="normal" fill="#231f20" stroke="#231f20" stroke-width="0.12">0.1</text>
<line x1="465.65" y1="327.73" x2="465.65" y2="324.60" stroke="#e8778a" stroke-width="0.8" />
<line x1="464.50" y1="324.60" x2="466.80" y2="324.60" stroke="#c84058" stroke-width="0.9" />
<rect x="463.40" y="327.73" width="4.5" height="26.67" fill="#b9122f"/>
<line x1="472.85" y1="311.04" x2="472.85" y2="300.76" stroke="#86a6c8" stroke-width="0.8" />
<line x1="471.70" y1="300.76" x2="474.00" y2="300.76" stroke="#3a5a80" stroke-width="0.9" />
<rect x="470.60" y="311.04" width="4.5" height="43.36" fill="#1a4679"/>
<line x1="469.30" y1="354.40" x2="469.30" y2="357.00" stroke="#231f20" stroke-width="1.0" />
<text transform="translate(469.30,367.70) scale(0.99,1)" font-size="8.4" text-anchor="middle" font-weight="normal" fill="#231f20" stroke="#231f20" stroke-width="0.12">1.0</text>
<line x1="484.05" y1="325.20" x2="484.05" y2="322.96" stroke="#e8778a" stroke-width="0.8" />
<line x1="482.90" y1="322.96" x2="485.20" y2="322.96" stroke="#c84058" stroke-width="0.9" />
<rect x="481.80" y="325.20" width="4.5" height="29.20" fill="#b9122f"/>
<line x1="491.25" y1="307.91" x2="491.25" y2="298.38" stroke="#86a6c8" stroke-width="0.8" />
<line x1="490.10" y1="298.38" x2="492.40" y2="298.38" stroke="#3a5a80" stroke-width="0.9" />
<rect x="489.00" y="307.91" width="4.5" height="46.49" fill="#1a4679"/>
<line x1="487.70" y1="354.40" x2="487.70" y2="357.00" stroke="#231f20" stroke-width="1.0" />
<text transform="translate(487.70,367.70) scale(0.99,1)" font-size="8.4" text-anchor="middle" font-weight="normal" fill="#231f20" stroke="#231f20" stroke-width="0.12">10</text>
<text x="11.80" y="270.90" font-size="11.8" text-anchor="start"  fill="#231f20" stroke="#000" stroke-width="0.3" font-weight="bold">C</text>
<text x="76.90" y="271.90" font-size="9.9" text-anchor="middle" font-weight="normal" fill="#231f20" stroke="#231f20" stroke-width="0.15">WB</text>
<text transform="translate(76.50,380.80) scale(0.635,1)" font-size="9.6" text-anchor="middle" font-weight="normal" fill="#231f20" stroke="#231f20" stroke-width="0.38" word-spacing="2">TF (pM)</text>
<text x="136.00" y="271.20" font-size="11.8" text-anchor="start"  fill="#231f20" stroke="#000" stroke-width="0.3" font-weight="bold">D</text>
<text x="206.60" y="271.90" font-size="9.9" text-anchor="middle" font-weight="normal" fill="#231f20" stroke="#231f20" stroke-width="0.15">WB</text>
<text transform="translate(206.30,380.80) scale(0.635,1)" font-size="9.6" text-anchor="middle" font-weight="normal" fill="#231f20" stroke="#231f20" stroke-width="0.38" word-spacing="2">TF (pM)</text>
<text x="264.60" y="270.90" font-size="11.8" text-anchor="start"  fill="#231f20" stroke="#000" stroke-width="0.3" font-weight="bold">E</text>
<text x="332.50" y="271.90" font-size="9.9" text-anchor="middle" font-weight="normal" fill="#231f20" stroke="#231f20" stroke-width="0.15">PRP</text>
<text transform="translate(332.30,380.80) scale(0.635,1)" font-size="9.6" text-anchor="middle" font-weight="normal" fill="#231f20" stroke="#231f20" stroke-width="0.38" word-spacing="2">TF (pM)</text>
<text x="391.00" y="271.20" font-size="11.8" text-anchor="start"  fill="#231f20" stroke="#000" stroke-width="0.3" font-weight="bold">F</text>
<text x="460.60" y="271.90" font-size="9.9" text-anchor="middle" font-weight="normal" fill="#231f20" stroke="#231f20" stroke-width="0.15">PRP</text>
<text transform="translate(460.30,380.80) scale(0.635,1)" font-size="9.6" text-anchor="middle" font-weight="normal" fill="#231f20" stroke="#231f20" stroke-width="0.38" word-spacing="2">TF (pM)</text>
<rect x="78.00" y="278.2" width="8.8" height="3.4" fill="#1a4679"/>
<rect x="78.00" y="285.6" width="8.8" height="3.4" fill="#b9122f"/>
<text x="90.20" y="281.90" font-size="7.6" text-anchor="start" font-weight="normal" fill="#231f20" stroke="#231f20" stroke-width="0.12">− CRP</text>
<text x="90.20" y="289.80" font-size="7.6" text-anchor="start" font-weight="normal" fill="#231f20" stroke="#231f20" stroke-width="0.12">+ CRP</text>
<rect x="208.00" y="278.2" width="8.8" height="3.4" fill="#1a4679"/>
<rect x="208.00" y="285.6" width="8.8" height="3.4" fill="#b9122f"/>
<text x="220.20" y="281.90" font-size="7.6" text-anchor="start" font-weight="normal" fill="#231f20" stroke="#231f20" stroke-width="0.12">− CRP</text>
<text x="220.20" y="289.80" font-size="7.6" text-anchor="start" font-weight="normal" fill="#231f20" stroke="#231f20" stroke-width="0.12">+ CRP</text>
<rect x="333.30" y="278.2" width="8.8" height="3.4" fill="#1a4679"/>
<rect x="333.30" y="285.6" width="8.8" height="3.4" fill="#b9122f"/>
<text x="345.50" y="281.90" font-size="7.6" text-anchor="start" font-weight="normal" fill="#231f20" stroke="#231f20" stroke-width="0.12">− CRP</text>
<text x="345.50" y="289.80" font-size="7.6" text-anchor="start" font-weight="normal" fill="#231f20" stroke="#231f20" stroke-width="0.12">+ CRP</text>
<rect x="461.80" y="278.2" width="8.8" height="3.4" fill="#1a4679"/>
<rect x="461.80" y="285.6" width="8.8" height="3.4" fill="#b9122f"/>
<text x="474.00" y="281.90" font-size="7.6" text-anchor="start" font-weight="normal" fill="#231f20" stroke="#231f20" stroke-width="0.12">− CRP</text>
<text x="474.00" y="289.80" font-size="7.6" text-anchor="start" font-weight="normal" fill="#231f20" stroke="#231f20" stroke-width="0.12">+ CRP</text>
<text transform="translate(19.40,323.60) rotate(-90) scale(0.715,1)" font-size="9.6" text-anchor="middle" font-weight="normal" fill="#231f20" stroke="#231f20" stroke-width="0.38">Lagtime (min)</text>
<text transform="translate(144.60,323.70) rotate(-90) scale(0.66,1)" font-size="10.0" text-anchor="middle" font-weight="normal" fill="#231f20" stroke="#231f20" stroke-width="0.38">Peak (nM)</text>
<text transform="translate(275.10,323.60) rotate(-90) scale(0.715,1)" font-size="9.6" text-anchor="middle" font-weight="normal" fill="#231f20" stroke="#231f20" stroke-width="0.38">Lagtime (min)</text>
<text transform="translate(399.20,323.70) rotate(-90) scale(0.66,1)" font-size="10.0" text-anchor="middle" font-weight="normal" fill="#231f20" stroke="#231f20" stroke-width="0.38">Peak (nM)</text>
<text x="48.80" y="308.90" font-size="8.4" text-anchor="middle" font-weight="bold" fill="#231f20" letter-spacing="-0.3">****</text>
<line x1="45.40" y1="309.10" x2="52.40" y2="309.10" stroke="#444" stroke-width="0.9" />
<text x="66.30" y="327.70" font-size="8.4" text-anchor="middle" font-weight="bold" fill="#231f20" letter-spacing="-0.3">*</text>
<line x1="63.30" y1="326.90" x2="69.80" y2="326.90" stroke="#444" stroke-width="0.9" />
<text x="302.80" y="296.80" font-size="8.4" text-anchor="middle" font-weight="bold" fill="#231f20" letter-spacing="-0.3">****</text>
<line x1="300.20" y1="296.30" x2="307.60" y2="296.30" stroke="#444" stroke-width="0.9" />
<text x="322.20" y="320.80" font-size="8.4" text-anchor="middle" font-weight="bold" fill="#231f20" letter-spacing="-0.3">***</text>
<line x1="318.40" y1="321.40" x2="326.30" y2="321.40" stroke="#444" stroke-width="0.9" />
<text x="432.20" y="295.50" font-size="8.4" text-anchor="middle" font-weight="bold" fill="#231f20" letter-spacing="-0.3">**</text>
<line x1="428.20" y1="295.20" x2="435.40" y2="295.20" stroke="#444" stroke-width="0.9" />
<text x="449.50" y="295.50" font-size="8.4" text-anchor="middle" font-weight="bold" fill="#231f20" letter-spacing="-0.3">**</text>
<line x1="446.00" y1="295.20" x2="453.60" y2="295.20" stroke="#444" stroke-width="0.9" />
</svg>
</body></html>
